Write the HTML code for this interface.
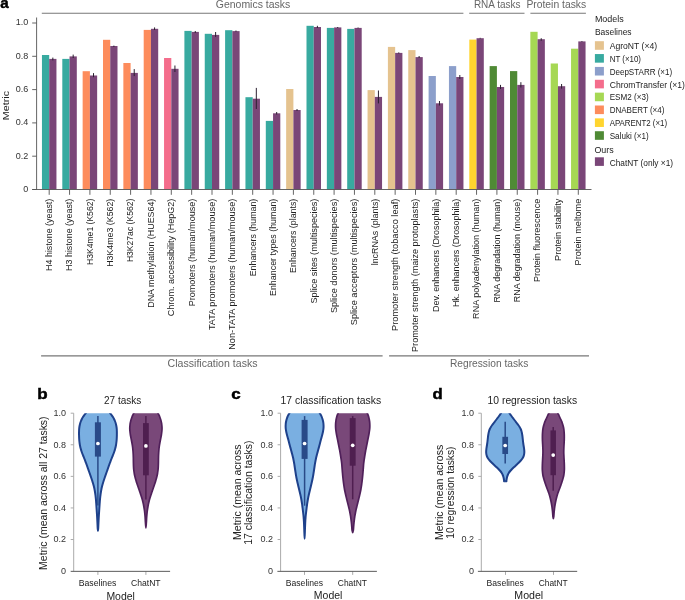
<!DOCTYPE html>
<html><head><meta charset="utf-8"><style>
html,body{margin:0;padding:0;background:#fff;width:685px;height:600px;overflow:hidden}
svg{display:block;will-change:transform}
</style></head><body>
<svg width="685" height="600" viewBox="0 0 685 600">
<rect width="685" height="600" fill="#fff"/>
<defs><clipPath id="vclip"><rect x="0" y="413.2" width="685" height="187"/></clipPath></defs>
<g font-family='"Liberation Sans", sans-serif' font-weight="bold" font-size="14.5" fill="#000" stroke="#000" stroke-width="0.45"><text transform="translate(0.3,8.2) scale(1.05,1)">a</text><text transform="translate(37.3,398.9) scale(1.17,1)">b</text><text transform="translate(231.2,398.9) scale(1.17,1)">c</text><text transform="translate(432.4,398.9) scale(1.15,1)">d</text></g>
<g>
<rect x="41.95" y="55.00" width="7.25" height="134.50" fill="#38aaa0"/>
<rect x="49.20" y="58.90" width="7.25" height="130.60" fill="#7a4678"/>
<rect x="62.30" y="58.90" width="7.25" height="130.60" fill="#38aaa0"/>
<rect x="69.55" y="56.40" width="7.25" height="133.10" fill="#7a4678"/>
<rect x="82.65" y="71.20" width="7.25" height="118.30" fill="#fd8c5c"/>
<rect x="89.90" y="75.50" width="7.25" height="114.00" fill="#7a4678"/>
<rect x="103.00" y="39.80" width="7.25" height="149.70" fill="#fd8c5c"/>
<rect x="110.25" y="46.00" width="7.25" height="143.50" fill="#7a4678"/>
<rect x="123.35" y="63.00" width="7.25" height="126.50" fill="#fd8c5c"/>
<rect x="130.60" y="72.90" width="7.25" height="116.60" fill="#7a4678"/>
<rect x="143.70" y="29.90" width="7.25" height="159.60" fill="#fd8c5c"/>
<rect x="150.95" y="28.80" width="7.25" height="160.70" fill="#7a4678"/>
<rect x="164.05" y="58.00" width="7.25" height="131.50" fill="#f46d8c"/>
<rect x="171.30" y="68.80" width="7.25" height="120.70" fill="#7a4678"/>
<rect x="184.40" y="30.90" width="7.25" height="158.60" fill="#38aaa0"/>
<rect x="191.65" y="31.90" width="7.25" height="157.60" fill="#7a4678"/>
<rect x="204.75" y="33.80" width="7.25" height="155.70" fill="#38aaa0"/>
<rect x="212.00" y="34.90" width="7.25" height="154.60" fill="#7a4678"/>
<rect x="225.10" y="30.20" width="7.25" height="159.30" fill="#38aaa0"/>
<rect x="232.35" y="31.10" width="7.25" height="158.40" fill="#7a4678"/>
<rect x="245.45" y="97.20" width="7.25" height="92.30" fill="#38aaa0"/>
<rect x="252.70" y="98.70" width="7.25" height="90.80" fill="#7a4678"/>
<rect x="265.80" y="120.90" width="7.25" height="68.60" fill="#38aaa0"/>
<rect x="273.05" y="113.30" width="7.25" height="76.20" fill="#7a4678"/>
<rect x="286.15" y="89.00" width="7.25" height="100.50" fill="#e5c38f"/>
<rect x="293.40" y="110.00" width="7.25" height="79.50" fill="#7a4678"/>
<rect x="306.50" y="25.80" width="7.25" height="163.70" fill="#38aaa0"/>
<rect x="313.75" y="27.00" width="7.25" height="162.50" fill="#7a4678"/>
<rect x="326.85" y="27.90" width="7.25" height="161.60" fill="#38aaa0"/>
<rect x="334.10" y="27.40" width="7.25" height="162.10" fill="#7a4678"/>
<rect x="347.20" y="28.90" width="7.25" height="160.60" fill="#38aaa0"/>
<rect x="354.45" y="27.90" width="7.25" height="161.60" fill="#7a4678"/>
<rect x="367.55" y="90.10" width="7.25" height="99.40" fill="#e5c38f"/>
<rect x="374.80" y="96.90" width="7.25" height="92.60" fill="#7a4678"/>
<rect x="387.90" y="46.90" width="7.25" height="142.60" fill="#e5c38f"/>
<rect x="395.15" y="52.90" width="7.25" height="136.60" fill="#7a4678"/>
<rect x="408.25" y="50.10" width="7.25" height="139.40" fill="#e5c38f"/>
<rect x="415.50" y="57.10" width="7.25" height="132.40" fill="#7a4678"/>
<rect x="428.60" y="76.00" width="7.25" height="113.50" fill="#8c9fcb"/>
<rect x="435.85" y="103.30" width="7.25" height="86.20" fill="#7a4678"/>
<rect x="448.95" y="66.10" width="7.25" height="123.40" fill="#8c9fcb"/>
<rect x="456.20" y="77.00" width="7.25" height="112.50" fill="#7a4678"/>
<rect x="469.30" y="39.60" width="7.25" height="149.90" fill="#ffd52f"/>
<rect x="476.55" y="38.20" width="7.25" height="151.30" fill="#7a4678"/>
<rect x="489.65" y="66.10" width="7.25" height="123.40" fill="#4f8a35"/>
<rect x="496.90" y="87.00" width="7.25" height="102.50" fill="#7a4678"/>
<rect x="510.00" y="71.10" width="7.25" height="118.40" fill="#4f8a35"/>
<rect x="517.25" y="84.90" width="7.25" height="104.60" fill="#7a4678"/>
<rect x="530.35" y="31.80" width="7.25" height="157.70" fill="#a6d854"/>
<rect x="537.60" y="39.20" width="7.25" height="150.30" fill="#7a4678"/>
<rect x="550.70" y="63.50" width="7.25" height="126.00" fill="#a6d854"/>
<rect x="557.95" y="86.20" width="7.25" height="103.30" fill="#7a4678"/>
<rect x="571.05" y="48.70" width="7.25" height="140.80" fill="#a6d854"/>
<rect x="578.30" y="41.40" width="7.25" height="148.10" fill="#7a4678"/>
</g>
<g stroke="#2b2030" stroke-width="1.0">
<line x1="52.83" y1="57.6" x2="52.83" y2="60.4"/>
<line x1="73.18" y1="54.6" x2="73.18" y2="58.0"/>
<line x1="93.53" y1="73.1" x2="93.53" y2="77.2"/>
<line x1="113.88" y1="45.6" x2="113.88" y2="46.9"/>
<line x1="134.23" y1="69.1" x2="134.23" y2="76.1"/>
<line x1="154.57" y1="27.4" x2="154.57" y2="30.0"/>
<line x1="174.93" y1="65.5" x2="174.93" y2="72.0"/>
<line x1="195.28" y1="31.0" x2="195.28" y2="33.0"/>
<line x1="215.62" y1="32.0" x2="215.62" y2="36.9"/>
<line x1="235.98" y1="30.5" x2="235.98" y2="31.8"/>
<line x1="256.32" y1="87.9" x2="256.32" y2="109.0"/>
<line x1="276.68" y1="112.0" x2="276.68" y2="114.5"/>
<line x1="297.03" y1="109.0" x2="297.03" y2="111.0"/>
<line x1="317.38" y1="25.8" x2="317.38" y2="28.0"/>
<line x1="337.73" y1="27.0" x2="337.73" y2="28.0"/>
<line x1="358.07" y1="27.5" x2="358.07" y2="28.3"/>
<line x1="378.43" y1="90.5" x2="378.43" y2="103.4"/>
<line x1="398.78" y1="52.4" x2="398.78" y2="53.5"/>
<line x1="419.12" y1="56.0" x2="419.12" y2="58.0"/>
<line x1="439.48" y1="101.0" x2="439.48" y2="105.5"/>
<line x1="459.82" y1="75.0" x2="459.82" y2="79.0"/>
<line x1="480.18" y1="37.8" x2="480.18" y2="38.6"/>
<line x1="500.53" y1="84.9" x2="500.53" y2="89.0"/>
<line x1="520.88" y1="82.2" x2="520.88" y2="87.5"/>
<line x1="541.23" y1="38.2" x2="541.23" y2="40.8"/>
<line x1="561.58" y1="84.0" x2="561.58" y2="88.6"/>
<line x1="581.93" y1="41.0" x2="581.93" y2="41.8"/>
</g>
<g stroke="#555" stroke-width="0.9" fill="none">
<line x1="36.6" y1="17.5" x2="36.6" y2="189.5"/>
<line x1="32.2" y1="189.5" x2="591.5" y2="189.5"/>
<line x1="32.2" y1="189.50" x2="36.6" y2="189.50"/>
<line x1="32.2" y1="156.20" x2="36.6" y2="156.20"/>
<line x1="32.2" y1="122.90" x2="36.6" y2="122.90"/>
<line x1="32.2" y1="89.60" x2="36.6" y2="89.60"/>
<line x1="32.2" y1="56.30" x2="36.6" y2="56.30"/>
<line x1="32.2" y1="23.00" x2="36.6" y2="23.00"/>
<line x1="49.20" y1="189.5" x2="49.20" y2="194.8"/>
<line x1="69.55" y1="189.5" x2="69.55" y2="194.8"/>
<line x1="89.90" y1="189.5" x2="89.90" y2="194.8"/>
<line x1="110.25" y1="189.5" x2="110.25" y2="194.8"/>
<line x1="130.60" y1="189.5" x2="130.60" y2="194.8"/>
<line x1="150.95" y1="189.5" x2="150.95" y2="194.8"/>
<line x1="171.30" y1="189.5" x2="171.30" y2="194.8"/>
<line x1="191.65" y1="189.5" x2="191.65" y2="194.8"/>
<line x1="212.00" y1="189.5" x2="212.00" y2="194.8"/>
<line x1="232.35" y1="189.5" x2="232.35" y2="194.8"/>
<line x1="252.70" y1="189.5" x2="252.70" y2="194.8"/>
<line x1="273.05" y1="189.5" x2="273.05" y2="194.8"/>
<line x1="293.40" y1="189.5" x2="293.40" y2="194.8"/>
<line x1="313.75" y1="189.5" x2="313.75" y2="194.8"/>
<line x1="334.10" y1="189.5" x2="334.10" y2="194.8"/>
<line x1="354.45" y1="189.5" x2="354.45" y2="194.8"/>
<line x1="374.80" y1="189.5" x2="374.80" y2="194.8"/>
<line x1="395.15" y1="189.5" x2="395.15" y2="194.8"/>
<line x1="415.50" y1="189.5" x2="415.50" y2="194.8"/>
<line x1="435.85" y1="189.5" x2="435.85" y2="194.8"/>
<line x1="456.20" y1="189.5" x2="456.20" y2="194.8"/>
<line x1="476.55" y1="189.5" x2="476.55" y2="194.8"/>
<line x1="496.90" y1="189.5" x2="496.90" y2="194.8"/>
<line x1="517.25" y1="189.5" x2="517.25" y2="194.8"/>
<line x1="537.60" y1="189.5" x2="537.60" y2="194.8"/>
<line x1="557.95" y1="189.5" x2="557.95" y2="194.8"/>
<line x1="578.30" y1="189.5" x2="578.30" y2="194.8"/>
</g>
<g font-family='"Liberation Sans", sans-serif' font-size="9" fill="#333" text-anchor="end">
<text x="28.3" y="191.90">0</text>
<text x="28.3" y="158.60">0.2</text>
<text x="28.3" y="125.30">0.4</text>
<text x="28.3" y="92.00">0.6</text>
<text x="28.3" y="58.70">0.8</text>
<text x="28.3" y="25.40">1.0</text>
</g>
<text font-family='"Liberation Sans", sans-serif' font-size="9.8" fill="#222" transform="translate(8.7,120.2) rotate(-90)" textLength="29.2" lengthAdjust="spacingAndGlyphs">Metric</text>
<g font-family='"Liberation Sans", sans-serif' font-size="8.3" fill="#222">
<text transform="translate(52.05,270.90) rotate(-90)" textLength="72.2" lengthAdjust="spacingAndGlyphs">H4 histone (yeast)</text>
<text transform="translate(72.40,270.90) rotate(-90)" textLength="72.2" lengthAdjust="spacingAndGlyphs">H3 histone (yeast)</text>
<text transform="translate(92.75,265.00) rotate(-90)" textLength="66.3" lengthAdjust="spacingAndGlyphs">H3K4me1 (K562)</text>
<text transform="translate(113.10,266.80) rotate(-90)" textLength="68.1" lengthAdjust="spacingAndGlyphs">H3K4me3 (K562)</text>
<text transform="translate(133.45,262.10) rotate(-90)" textLength="63.4" lengthAdjust="spacingAndGlyphs">H3K27ac (K562)</text>
<text transform="translate(153.80,307.70) rotate(-90)" textLength="109.0" lengthAdjust="spacingAndGlyphs">DNA methylation (HUES64)</text>
<text transform="translate(174.15,316.20) rotate(-90)" textLength="117.5" lengthAdjust="spacingAndGlyphs">Chrom. accessibility (HepG2)</text>
<text transform="translate(194.50,306.30) rotate(-90)" textLength="107.6" lengthAdjust="spacingAndGlyphs">Promoters (human/mouse)</text>
<text transform="translate(214.85,330.10) rotate(-90)" textLength="131.4" lengthAdjust="spacingAndGlyphs">TATA promoters (human/mouse)</text>
<text transform="translate(235.20,349.80) rotate(-90)" textLength="151.1" lengthAdjust="spacingAndGlyphs">Non-TATA promoters (human/mouse)</text>
<text transform="translate(255.55,276.30) rotate(-90)" textLength="77.6" lengthAdjust="spacingAndGlyphs">Enhancers (human)</text>
<text transform="translate(275.90,296.00) rotate(-90)" textLength="97.3" lengthAdjust="spacingAndGlyphs">Enhancer types (human)</text>
<text transform="translate(296.25,272.90) rotate(-90)" textLength="74.2" lengthAdjust="spacingAndGlyphs">Enhancers (plants)</text>
<text transform="translate(316.60,303.50) rotate(-90)" textLength="104.8" lengthAdjust="spacingAndGlyphs">Splice sites (multispecies)</text>
<text transform="translate(336.95,313.10) rotate(-90)" textLength="114.4" lengthAdjust="spacingAndGlyphs">Splice donors (multispecies)</text>
<text transform="translate(357.30,325.20) rotate(-90)" textLength="126.5" lengthAdjust="spacingAndGlyphs">Splice acceptors (multispecies)</text>
<text transform="translate(377.65,265.30) rotate(-90)" textLength="66.6" lengthAdjust="spacingAndGlyphs">lncRNAs (plants)</text>
<text transform="translate(398.00,330.90) rotate(-90)" textLength="132.2" lengthAdjust="spacingAndGlyphs">Promoter strength (tobacco leaf)</text>
<text transform="translate(418.35,352.00) rotate(-90)" textLength="153.3" lengthAdjust="spacingAndGlyphs">Promoter strength (maize protoplasts)</text>
<text transform="translate(438.70,311.90) rotate(-90)" textLength="113.2" lengthAdjust="spacingAndGlyphs">Dev. enhancers (Drosophila)</text>
<text transform="translate(459.05,307.10) rotate(-90)" textLength="108.4" lengthAdjust="spacingAndGlyphs">Hk. enhancers (Drosophila)</text>
<text transform="translate(479.40,318.90) rotate(-90)" textLength="120.2" lengthAdjust="spacingAndGlyphs">RNA polyadenylation (human)</text>
<text transform="translate(499.75,302.60) rotate(-90)" textLength="103.9" lengthAdjust="spacingAndGlyphs">RNA degradation (human)</text>
<text transform="translate(520.10,302.20) rotate(-90)" textLength="103.5" lengthAdjust="spacingAndGlyphs">RNA degradation (mouse)</text>
<text transform="translate(540.45,282.10) rotate(-90)" textLength="83.4" lengthAdjust="spacingAndGlyphs">Protein fluorescence</text>
<text transform="translate(560.80,261.00) rotate(-90)" textLength="62.3" lengthAdjust="spacingAndGlyphs">Protein stability</text>
<text transform="translate(581.15,265.40) rotate(-90)" textLength="66.7" lengthAdjust="spacingAndGlyphs">Protein meltome</text>
</g>
<g stroke="#777" stroke-width="1.1">
<line x1="41.8" y1="13.3" x2="463.4" y2="13.3"/>
<line x1="469.2" y1="13.3" x2="524.5" y2="13.3"/>
<line x1="530.4" y1="13.3" x2="585.9" y2="13.3"/>
<line x1="41.1" y1="355.9" x2="382.6" y2="355.9"/>
<line x1="389.1" y1="355.9" x2="589.0" y2="355.9"/>
</g>
<g font-family='"Liberation Sans", sans-serif' font-size="10.3" fill="#666">
<text x="215.8" y="7.6" textLength="74.4" lengthAdjust="spacingAndGlyphs">Genomics tasks</text>
<text x="473.9" y="8.0" textLength="46.6" lengthAdjust="spacingAndGlyphs">RNA tasks</text>
<text x="526.4" y="8.0" textLength="59.8" lengthAdjust="spacingAndGlyphs">Protein tasks</text>
<text x="167.6" y="367.0" textLength="89.9" lengthAdjust="spacingAndGlyphs">Classification tasks</text>
<text x="449.9" y="367.0" textLength="78.4" lengthAdjust="spacingAndGlyphs">Regression tasks</text>
</g>
<g font-family='"Liberation Sans", sans-serif' font-size="8.7" fill="#222">
<text x="594.9" y="22.1" textLength="28.8" lengthAdjust="spacingAndGlyphs">Models</text>
<text x="594.9" y="35.2" textLength="36.7" lengthAdjust="spacingAndGlyphs">Baselines</text>
<rect x="594.9" y="41.20" width="9" height="8.6" fill="#e5c38f"/>
<text x="609.7" y="49.00" textLength="47.4" lengthAdjust="spacingAndGlyphs">AgroNT (×4)</text>
<rect x="594.9" y="54.06" width="9" height="8.6" fill="#38aaa0"/>
<text x="609.7" y="61.86" textLength="31.3" lengthAdjust="spacingAndGlyphs">NT (×10)</text>
<rect x="594.9" y="66.92" width="9" height="8.6" fill="#8c9fcb"/>
<text x="609.7" y="74.72" textLength="62.5" lengthAdjust="spacingAndGlyphs">DeepSTARR (×1)</text>
<rect x="594.9" y="79.78" width="9" height="8.6" fill="#f46d8c"/>
<text x="609.7" y="87.58" textLength="75.3" lengthAdjust="spacingAndGlyphs">ChromTransfer (×1)</text>
<rect x="594.9" y="92.64" width="9" height="8.6" fill="#a6d854"/>
<text x="609.7" y="100.44" textLength="38.9" lengthAdjust="spacingAndGlyphs">ESM2 (×3)</text>
<rect x="594.9" y="105.50" width="9" height="8.6" fill="#fd8c5c"/>
<text x="609.7" y="113.30" textLength="54.7" lengthAdjust="spacingAndGlyphs">DNABERT (×4)</text>
<rect x="594.9" y="118.36" width="9" height="8.6" fill="#ffd52f"/>
<text x="609.7" y="126.16" textLength="57.4" lengthAdjust="spacingAndGlyphs">APARENT2 (×1)</text>
<rect x="594.9" y="131.22" width="9" height="8.6" fill="#4f8a35"/>
<text x="609.7" y="139.02" textLength="38.9" lengthAdjust="spacingAndGlyphs">Saluki (×1)</text>
<text x="594.4" y="153.1" textLength="19.3" lengthAdjust="spacingAndGlyphs">Ours</text>
<rect x="594.9" y="157.3" width="9" height="8.6" fill="#7a4678"/>
<text x="609.7" y="165.5" textLength="63.4" lengthAdjust="spacingAndGlyphs">ChatNT (only ×1)</text>
</g>
<g clip-path="url(#vclip)">
<path d="M87.10,411.00 C86.90,411.33 86.36,412.33 85.90,413.00 C85.44,413.67 84.84,414.33 84.35,415.00 C83.86,415.67 83.36,416.33 82.95,417.00 C82.54,417.67 82.20,418.33 81.87,419.00 C81.54,419.67 81.24,420.33 80.97,421.00 C80.71,421.67 80.46,422.33 80.26,423.00 C80.06,423.67 79.91,424.33 79.77,425.00 C79.62,425.67 79.49,426.33 79.39,427.00 C79.29,427.67 79.21,428.33 79.15,429.00 C79.10,429.67 79.08,430.33 79.06,431.00 C79.04,431.67 79.03,432.33 79.03,433.00 C79.03,433.67 79.03,434.33 79.04,435.00 C79.06,435.67 79.08,436.33 79.10,437.00 C79.12,437.67 79.15,438.33 79.19,439.00 C79.23,439.67 79.28,440.33 79.35,441.00 C79.42,441.67 79.50,442.33 79.59,443.00 C79.67,443.67 79.76,444.33 79.88,445.00 C80.00,445.67 80.13,446.33 80.29,447.00 C80.44,447.67 80.63,448.33 80.81,449.00 C81.00,449.67 81.19,450.33 81.40,451.00 C81.62,451.67 81.85,452.33 82.10,453.00 C82.35,453.67 82.62,454.33 82.89,455.00 C83.15,455.67 83.43,456.33 83.69,457.00 C83.96,457.67 84.22,458.33 84.48,459.00 C84.74,459.67 85.01,460.33 85.26,461.00 C85.52,461.67 85.78,462.33 86.02,463.00 C86.27,463.67 86.51,464.33 86.75,465.00 C86.99,465.67 87.22,466.33 87.45,467.00 C87.68,467.67 87.91,468.33 88.15,469.00 C88.38,469.67 88.61,470.33 88.85,471.00 C89.09,471.67 89.32,472.33 89.56,473.00 C89.80,473.67 90.03,474.33 90.26,475.00 C90.50,475.67 90.73,476.33 90.96,477.00 C91.18,477.67 91.41,478.33 91.63,479.00 C91.86,479.67 92.08,480.33 92.29,481.00 C92.51,481.67 92.71,482.33 92.91,483.00 C93.11,483.67 93.30,484.33 93.48,485.00 C93.67,485.67 93.85,486.33 94.01,487.00 C94.17,487.67 94.32,488.33 94.45,489.00 C94.58,489.67 94.70,490.33 94.82,491.00 C94.93,491.67 95.04,492.33 95.15,493.00 C95.25,493.67 95.34,494.33 95.42,495.00 C95.51,495.67 95.59,496.33 95.66,497.00 C95.74,497.67 95.81,498.33 95.88,499.00 C95.94,499.67 96.00,500.33 96.05,501.00 C96.11,501.67 96.15,502.33 96.20,503.00 C96.25,503.67 96.29,504.33 96.34,505.00 C96.38,505.67 96.43,506.33 96.47,507.00 C96.52,507.67 96.56,508.33 96.61,509.00 C96.65,509.67 96.70,510.33 96.74,511.00 C96.79,511.67 96.83,512.33 96.88,513.00 C96.92,513.67 96.97,514.33 97.01,515.00 C97.05,515.67 97.09,516.33 97.13,517.00 C97.17,517.67 97.20,518.33 97.24,519.00 C97.27,519.67 97.30,520.33 97.34,521.00 C97.37,521.67 97.40,522.33 97.44,523.00 C97.47,523.67 97.50,524.33 97.53,525.00 C97.57,525.67 97.60,526.43 97.62,527.00 C97.65,527.57 97.65,527.75 97.70,528.40 C97.76,529.05 97.87,530.90 97.95,530.90 C98.03,530.90 98.14,529.05 98.20,528.40 C98.25,527.75 98.25,527.57 98.28,527.00 C98.30,526.43 98.33,525.67 98.37,525.00 C98.40,524.33 98.43,523.67 98.46,523.00 C98.50,522.33 98.53,521.67 98.56,521.00 C98.60,520.33 98.63,519.67 98.66,519.00 C98.70,518.33 98.73,517.67 98.77,517.00 C98.81,516.33 98.85,515.67 98.89,515.00 C98.93,514.33 98.98,513.67 99.02,513.00 C99.07,512.33 99.11,511.67 99.16,511.00 C99.20,510.33 99.25,509.67 99.29,509.00 C99.34,508.33 99.38,507.67 99.43,507.00 C99.47,506.33 99.52,505.67 99.56,505.00 C99.61,504.33 99.65,503.67 99.70,503.00 C99.75,502.33 99.79,501.67 99.85,501.00 C99.90,500.33 99.96,499.67 100.02,499.00 C100.09,498.33 100.16,497.67 100.24,497.00 C100.31,496.33 100.39,495.67 100.48,495.00 C100.56,494.33 100.65,493.67 100.75,493.00 C100.86,492.33 100.97,491.67 101.08,491.00 C101.20,490.33 101.32,489.67 101.45,489.00 C101.58,488.33 101.73,487.67 101.89,487.00 C102.05,486.33 102.23,485.67 102.42,485.00 C102.60,484.33 102.79,483.67 102.99,483.00 C103.19,482.33 103.39,481.67 103.61,481.00 C103.82,480.33 104.04,479.67 104.27,479.00 C104.49,478.33 104.72,477.67 104.94,477.00 C105.17,476.33 105.40,475.67 105.64,475.00 C105.87,474.33 106.10,473.67 106.34,473.00 C106.58,472.33 106.81,471.67 107.05,471.00 C107.29,470.33 107.52,469.67 107.75,469.00 C107.99,468.33 108.22,467.67 108.45,467.00 C108.68,466.33 108.91,465.67 109.15,465.00 C109.39,464.33 109.63,463.67 109.88,463.00 C110.12,462.33 110.38,461.67 110.64,461.00 C110.89,460.33 111.16,459.67 111.42,459.00 C111.68,458.33 111.94,457.67 112.21,457.00 C112.47,456.33 112.75,455.67 113.01,455.00 C113.28,454.33 113.55,453.67 113.80,453.00 C114.05,452.33 114.28,451.67 114.50,451.00 C114.71,450.33 114.90,449.67 115.09,449.00 C115.27,448.33 115.46,447.67 115.61,447.00 C115.77,446.33 115.90,445.67 116.02,445.00 C116.14,444.33 116.23,443.67 116.31,443.00 C116.40,442.33 116.48,441.67 116.55,441.00 C116.62,440.33 116.67,439.67 116.71,439.00 C116.75,438.33 116.78,437.67 116.80,437.00 C116.82,436.33 116.84,435.67 116.86,435.00 C116.87,434.33 116.87,433.67 116.87,433.00 C116.87,432.33 116.86,431.67 116.84,431.00 C116.82,430.33 116.80,429.67 116.75,429.00 C116.69,428.33 116.61,427.67 116.51,427.00 C116.41,426.33 116.28,425.67 116.13,425.00 C115.99,424.33 115.84,423.67 115.64,423.00 C115.44,422.33 115.19,421.67 114.93,421.00 C114.66,420.33 114.36,419.67 114.03,419.00 C113.70,418.33 113.36,417.67 112.95,417.00 C112.54,416.33 112.04,415.67 111.55,415.00 C111.06,414.33 110.46,413.67 110.00,413.00 C109.54,412.33 109.00,411.33 108.80,411.00 Z" fill="#7aafe1" stroke="none"/>
<path d="M87.10,411.00 C86.90,411.33 86.36,412.33 85.90,413.00 C85.44,413.67 84.84,414.33 84.35,415.00 C83.86,415.67 83.36,416.33 82.95,417.00 C82.54,417.67 82.20,418.33 81.87,419.00 C81.54,419.67 81.24,420.33 80.97,421.00 C80.71,421.67 80.46,422.33 80.26,423.00 C80.06,423.67 79.91,424.33 79.77,425.00 C79.62,425.67 79.49,426.33 79.39,427.00 C79.29,427.67 79.21,428.33 79.15,429.00 C79.10,429.67 79.08,430.33 79.06,431.00 C79.04,431.67 79.03,432.33 79.03,433.00 C79.03,433.67 79.03,434.33 79.04,435.00 C79.06,435.67 79.08,436.33 79.10,437.00 C79.12,437.67 79.15,438.33 79.19,439.00 C79.23,439.67 79.28,440.33 79.35,441.00 C79.42,441.67 79.50,442.33 79.59,443.00 C79.67,443.67 79.76,444.33 79.88,445.00 C80.00,445.67 80.13,446.33 80.29,447.00 C80.44,447.67 80.63,448.33 80.81,449.00 C81.00,449.67 81.19,450.33 81.40,451.00 C81.62,451.67 81.85,452.33 82.10,453.00 C82.35,453.67 82.62,454.33 82.89,455.00 C83.15,455.67 83.43,456.33 83.69,457.00 C83.96,457.67 84.22,458.33 84.48,459.00 C84.74,459.67 85.01,460.33 85.26,461.00 C85.52,461.67 85.78,462.33 86.02,463.00 C86.27,463.67 86.51,464.33 86.75,465.00 C86.99,465.67 87.22,466.33 87.45,467.00 C87.68,467.67 87.91,468.33 88.15,469.00 C88.38,469.67 88.61,470.33 88.85,471.00 C89.09,471.67 89.32,472.33 89.56,473.00 C89.80,473.67 90.03,474.33 90.26,475.00 C90.50,475.67 90.73,476.33 90.96,477.00 C91.18,477.67 91.41,478.33 91.63,479.00 C91.86,479.67 92.08,480.33 92.29,481.00 C92.51,481.67 92.71,482.33 92.91,483.00 C93.11,483.67 93.30,484.33 93.48,485.00 C93.67,485.67 93.85,486.33 94.01,487.00 C94.17,487.67 94.32,488.33 94.45,489.00 C94.58,489.67 94.70,490.33 94.82,491.00 C94.93,491.67 95.04,492.33 95.15,493.00 C95.25,493.67 95.34,494.33 95.42,495.00 C95.51,495.67 95.59,496.33 95.66,497.00 C95.74,497.67 95.81,498.33 95.88,499.00 C95.94,499.67 96.00,500.33 96.05,501.00 C96.11,501.67 96.15,502.33 96.20,503.00 C96.25,503.67 96.29,504.33 96.34,505.00 C96.38,505.67 96.43,506.33 96.47,507.00 C96.52,507.67 96.56,508.33 96.61,509.00 C96.65,509.67 96.70,510.33 96.74,511.00 C96.79,511.67 96.83,512.33 96.88,513.00 C96.92,513.67 96.97,514.33 97.01,515.00 C97.05,515.67 97.09,516.33 97.13,517.00 C97.17,517.67 97.20,518.33 97.24,519.00 C97.27,519.67 97.30,520.33 97.34,521.00 C97.37,521.67 97.40,522.33 97.44,523.00 C97.47,523.67 97.50,524.33 97.53,525.00 C97.57,525.67 97.60,526.43 97.62,527.00 C97.65,527.57 97.65,527.75 97.70,528.40 C97.76,529.05 97.87,530.90 97.95,530.90 C98.03,530.90 98.14,529.05 98.20,528.40 C98.25,527.75 98.25,527.57 98.28,527.00 C98.30,526.43 98.33,525.67 98.37,525.00 C98.40,524.33 98.43,523.67 98.46,523.00 C98.50,522.33 98.53,521.67 98.56,521.00 C98.60,520.33 98.63,519.67 98.66,519.00 C98.70,518.33 98.73,517.67 98.77,517.00 C98.81,516.33 98.85,515.67 98.89,515.00 C98.93,514.33 98.98,513.67 99.02,513.00 C99.07,512.33 99.11,511.67 99.16,511.00 C99.20,510.33 99.25,509.67 99.29,509.00 C99.34,508.33 99.38,507.67 99.43,507.00 C99.47,506.33 99.52,505.67 99.56,505.00 C99.61,504.33 99.65,503.67 99.70,503.00 C99.75,502.33 99.79,501.67 99.85,501.00 C99.90,500.33 99.96,499.67 100.02,499.00 C100.09,498.33 100.16,497.67 100.24,497.00 C100.31,496.33 100.39,495.67 100.48,495.00 C100.56,494.33 100.65,493.67 100.75,493.00 C100.86,492.33 100.97,491.67 101.08,491.00 C101.20,490.33 101.32,489.67 101.45,489.00 C101.58,488.33 101.73,487.67 101.89,487.00 C102.05,486.33 102.23,485.67 102.42,485.00 C102.60,484.33 102.79,483.67 102.99,483.00 C103.19,482.33 103.39,481.67 103.61,481.00 C103.82,480.33 104.04,479.67 104.27,479.00 C104.49,478.33 104.72,477.67 104.94,477.00 C105.17,476.33 105.40,475.67 105.64,475.00 C105.87,474.33 106.10,473.67 106.34,473.00 C106.58,472.33 106.81,471.67 107.05,471.00 C107.29,470.33 107.52,469.67 107.75,469.00 C107.99,468.33 108.22,467.67 108.45,467.00 C108.68,466.33 108.91,465.67 109.15,465.00 C109.39,464.33 109.63,463.67 109.88,463.00 C110.12,462.33 110.38,461.67 110.64,461.00 C110.89,460.33 111.16,459.67 111.42,459.00 C111.68,458.33 111.94,457.67 112.21,457.00 C112.47,456.33 112.75,455.67 113.01,455.00 C113.28,454.33 113.55,453.67 113.80,453.00 C114.05,452.33 114.28,451.67 114.50,451.00 C114.71,450.33 114.90,449.67 115.09,449.00 C115.27,448.33 115.46,447.67 115.61,447.00 C115.77,446.33 115.90,445.67 116.02,445.00 C116.14,444.33 116.23,443.67 116.31,443.00 C116.40,442.33 116.48,441.67 116.55,441.00 C116.62,440.33 116.67,439.67 116.71,439.00 C116.75,438.33 116.78,437.67 116.80,437.00 C116.82,436.33 116.84,435.67 116.86,435.00 C116.87,434.33 116.87,433.67 116.87,433.00 C116.87,432.33 116.86,431.67 116.84,431.00 C116.82,430.33 116.80,429.67 116.75,429.00 C116.69,428.33 116.61,427.67 116.51,427.00 C116.41,426.33 116.28,425.67 116.13,425.00 C115.99,424.33 115.84,423.67 115.64,423.00 C115.44,422.33 115.19,421.67 114.93,421.00 C114.66,420.33 114.36,419.67 114.03,419.00 C113.70,418.33 113.36,417.67 112.95,417.00 C112.54,416.33 112.04,415.67 111.55,415.00 C111.06,414.33 110.46,413.67 110.00,413.00 C109.54,412.33 109.00,411.33 108.80,411.00" fill="none" stroke="#1e418b" stroke-width="2.0" stroke-linejoin="round" stroke-linecap="butt"/>
</g>
<g clip-path="url(#vclip)">
<path d="M134.53,411.00 C134.41,411.33 134.09,412.33 133.81,413.00 C133.53,413.67 133.17,414.33 132.87,415.00 C132.57,415.67 132.27,416.33 132.01,417.00 C131.75,417.67 131.53,418.33 131.32,419.00 C131.11,419.67 130.91,420.33 130.73,421.00 C130.56,421.67 130.40,422.33 130.28,423.00 C130.16,423.67 130.08,424.33 130.00,425.00 C129.93,425.67 129.86,426.33 129.82,427.00 C129.79,427.67 129.77,428.33 129.79,429.00 C129.81,429.67 129.87,430.33 129.93,431.00 C129.99,431.67 130.06,432.33 130.15,433.00 C130.23,433.67 130.33,434.33 130.44,435.00 C130.55,435.67 130.68,436.33 130.81,437.00 C130.93,437.67 131.07,438.33 131.20,439.00 C131.33,439.67 131.46,440.33 131.58,441.00 C131.71,441.67 131.84,442.33 131.96,443.00 C132.08,443.67 132.20,444.33 132.31,445.00 C132.41,445.67 132.51,446.33 132.59,447.00 C132.68,447.67 132.75,448.33 132.82,449.00 C132.89,449.67 132.95,450.33 133.01,451.00 C133.06,451.67 133.11,452.33 133.14,453.00 C133.18,453.67 133.21,454.33 133.24,455.00 C133.27,455.67 133.29,456.33 133.31,457.00 C133.33,457.67 133.35,458.33 133.36,459.00 C133.37,459.67 133.37,460.33 133.38,461.00 C133.39,461.67 133.40,462.33 133.41,463.00 C133.43,463.67 133.45,464.33 133.47,465.00 C133.49,465.67 133.52,466.33 133.55,467.00 C133.59,467.67 133.62,468.33 133.68,469.00 C133.74,469.67 133.82,470.33 133.91,471.00 C133.99,471.67 134.10,472.33 134.21,473.00 C134.32,473.67 134.43,474.33 134.57,475.00 C134.71,475.67 134.86,476.33 135.03,477.00 C135.19,477.67 135.38,478.33 135.56,479.00 C135.75,479.67 135.93,480.33 136.13,481.00 C136.33,481.67 136.54,482.33 136.76,483.00 C136.98,483.67 137.21,484.33 137.44,485.00 C137.67,485.67 137.90,486.33 138.13,487.00 C138.36,487.67 138.59,488.33 138.82,489.00 C139.05,489.67 139.28,490.33 139.51,491.00 C139.73,491.67 139.96,492.33 140.19,493.00 C140.42,493.67 140.64,494.33 140.86,495.00 C141.08,495.67 141.31,496.33 141.52,497.00 C141.73,497.67 141.94,498.33 142.13,499.00 C142.32,499.67 142.49,500.33 142.66,501.00 C142.82,501.67 142.97,502.33 143.12,503.00 C143.27,503.67 143.42,504.33 143.55,505.00 C143.68,505.67 143.80,506.33 143.91,507.00 C144.03,507.67 144.14,508.33 144.24,509.00 C144.34,509.67 144.44,510.33 144.52,511.00 C144.61,511.67 144.68,512.33 144.75,513.00 C144.82,513.67 144.88,514.33 144.94,515.00 C145.01,515.67 145.06,516.33 145.11,517.00 C145.16,517.67 145.20,518.33 145.24,519.00 C145.28,519.67 145.32,520.42 145.35,521.00 C145.39,521.58 145.35,521.37 145.45,522.50 C145.54,523.63 145.75,527.80 145.90,527.80 C146.05,527.80 146.26,523.63 146.35,522.50 C146.45,521.37 146.41,521.58 146.45,521.00 C146.48,520.42 146.52,519.67 146.56,519.00 C146.60,518.33 146.64,517.67 146.69,517.00 C146.74,516.33 146.79,515.67 146.86,515.00 C146.92,514.33 146.98,513.67 147.05,513.00 C147.12,512.33 147.19,511.67 147.28,511.00 C147.36,510.33 147.46,509.67 147.56,509.00 C147.66,508.33 147.77,507.67 147.89,507.00 C148.00,506.33 148.12,505.67 148.25,505.00 C148.38,504.33 148.53,503.67 148.68,503.00 C148.83,502.33 148.98,501.67 149.14,501.00 C149.31,500.33 149.48,499.67 149.67,499.00 C149.86,498.33 150.07,497.67 150.28,497.00 C150.49,496.33 150.72,495.67 150.94,495.00 C151.16,494.33 151.38,493.67 151.61,493.00 C151.84,492.33 152.07,491.67 152.29,491.00 C152.52,490.33 152.75,489.67 152.98,489.00 C153.21,488.33 153.44,487.67 153.67,487.00 C153.90,486.33 154.13,485.67 154.36,485.00 C154.59,484.33 154.82,483.67 155.04,483.00 C155.26,482.33 155.47,481.67 155.67,481.00 C155.87,480.33 156.05,479.67 156.24,479.00 C156.42,478.33 156.61,477.67 156.77,477.00 C156.94,476.33 157.09,475.67 157.23,475.00 C157.37,474.33 157.48,473.67 157.59,473.00 C157.70,472.33 157.81,471.67 157.89,471.00 C157.98,470.33 158.06,469.67 158.12,469.00 C158.18,468.33 158.21,467.67 158.25,467.00 C158.28,466.33 158.31,465.67 158.33,465.00 C158.35,464.33 158.37,463.67 158.39,463.00 C158.40,462.33 158.41,461.67 158.42,461.00 C158.43,460.33 158.43,459.67 158.44,459.00 C158.45,458.33 158.47,457.67 158.49,457.00 C158.51,456.33 158.53,455.67 158.56,455.00 C158.59,454.33 158.62,453.67 158.66,453.00 C158.69,452.33 158.74,451.67 158.79,451.00 C158.85,450.33 158.91,449.67 158.98,449.00 C159.05,448.33 159.12,447.67 159.21,447.00 C159.29,446.33 159.39,445.67 159.49,445.00 C159.60,444.33 159.72,443.67 159.84,443.00 C159.96,442.33 160.09,441.67 160.22,441.00 C160.34,440.33 160.47,439.67 160.60,439.00 C160.73,438.33 160.87,437.67 160.99,437.00 C161.12,436.33 161.25,435.67 161.36,435.00 C161.47,434.33 161.57,433.67 161.65,433.00 C161.74,432.33 161.81,431.67 161.87,431.00 C161.93,430.33 161.99,429.67 162.01,429.00 C162.03,428.33 162.01,427.67 161.98,427.00 C161.94,426.33 161.87,425.67 161.80,425.00 C161.72,424.33 161.64,423.67 161.52,423.00 C161.40,422.33 161.24,421.67 161.07,421.00 C160.89,420.33 160.69,419.67 160.48,419.00 C160.27,418.33 160.05,417.67 159.79,417.00 C159.53,416.33 159.23,415.67 158.93,415.00 C158.63,414.33 158.27,413.67 157.99,413.00 C157.71,412.33 157.39,411.33 157.27,411.00 Z" fill="#794879" stroke="none"/>
<path d="M134.53,411.00 C134.41,411.33 134.09,412.33 133.81,413.00 C133.53,413.67 133.17,414.33 132.87,415.00 C132.57,415.67 132.27,416.33 132.01,417.00 C131.75,417.67 131.53,418.33 131.32,419.00 C131.11,419.67 130.91,420.33 130.73,421.00 C130.56,421.67 130.40,422.33 130.28,423.00 C130.16,423.67 130.08,424.33 130.00,425.00 C129.93,425.67 129.86,426.33 129.82,427.00 C129.79,427.67 129.77,428.33 129.79,429.00 C129.81,429.67 129.87,430.33 129.93,431.00 C129.99,431.67 130.06,432.33 130.15,433.00 C130.23,433.67 130.33,434.33 130.44,435.00 C130.55,435.67 130.68,436.33 130.81,437.00 C130.93,437.67 131.07,438.33 131.20,439.00 C131.33,439.67 131.46,440.33 131.58,441.00 C131.71,441.67 131.84,442.33 131.96,443.00 C132.08,443.67 132.20,444.33 132.31,445.00 C132.41,445.67 132.51,446.33 132.59,447.00 C132.68,447.67 132.75,448.33 132.82,449.00 C132.89,449.67 132.95,450.33 133.01,451.00 C133.06,451.67 133.11,452.33 133.14,453.00 C133.18,453.67 133.21,454.33 133.24,455.00 C133.27,455.67 133.29,456.33 133.31,457.00 C133.33,457.67 133.35,458.33 133.36,459.00 C133.37,459.67 133.37,460.33 133.38,461.00 C133.39,461.67 133.40,462.33 133.41,463.00 C133.43,463.67 133.45,464.33 133.47,465.00 C133.49,465.67 133.52,466.33 133.55,467.00 C133.59,467.67 133.62,468.33 133.68,469.00 C133.74,469.67 133.82,470.33 133.91,471.00 C133.99,471.67 134.10,472.33 134.21,473.00 C134.32,473.67 134.43,474.33 134.57,475.00 C134.71,475.67 134.86,476.33 135.03,477.00 C135.19,477.67 135.38,478.33 135.56,479.00 C135.75,479.67 135.93,480.33 136.13,481.00 C136.33,481.67 136.54,482.33 136.76,483.00 C136.98,483.67 137.21,484.33 137.44,485.00 C137.67,485.67 137.90,486.33 138.13,487.00 C138.36,487.67 138.59,488.33 138.82,489.00 C139.05,489.67 139.28,490.33 139.51,491.00 C139.73,491.67 139.96,492.33 140.19,493.00 C140.42,493.67 140.64,494.33 140.86,495.00 C141.08,495.67 141.31,496.33 141.52,497.00 C141.73,497.67 141.94,498.33 142.13,499.00 C142.32,499.67 142.49,500.33 142.66,501.00 C142.82,501.67 142.97,502.33 143.12,503.00 C143.27,503.67 143.42,504.33 143.55,505.00 C143.68,505.67 143.80,506.33 143.91,507.00 C144.03,507.67 144.14,508.33 144.24,509.00 C144.34,509.67 144.44,510.33 144.52,511.00 C144.61,511.67 144.68,512.33 144.75,513.00 C144.82,513.67 144.88,514.33 144.94,515.00 C145.01,515.67 145.06,516.33 145.11,517.00 C145.16,517.67 145.20,518.33 145.24,519.00 C145.28,519.67 145.32,520.42 145.35,521.00 C145.39,521.58 145.35,521.37 145.45,522.50 C145.54,523.63 145.75,527.80 145.90,527.80 C146.05,527.80 146.26,523.63 146.35,522.50 C146.45,521.37 146.41,521.58 146.45,521.00 C146.48,520.42 146.52,519.67 146.56,519.00 C146.60,518.33 146.64,517.67 146.69,517.00 C146.74,516.33 146.79,515.67 146.86,515.00 C146.92,514.33 146.98,513.67 147.05,513.00 C147.12,512.33 147.19,511.67 147.28,511.00 C147.36,510.33 147.46,509.67 147.56,509.00 C147.66,508.33 147.77,507.67 147.89,507.00 C148.00,506.33 148.12,505.67 148.25,505.00 C148.38,504.33 148.53,503.67 148.68,503.00 C148.83,502.33 148.98,501.67 149.14,501.00 C149.31,500.33 149.48,499.67 149.67,499.00 C149.86,498.33 150.07,497.67 150.28,497.00 C150.49,496.33 150.72,495.67 150.94,495.00 C151.16,494.33 151.38,493.67 151.61,493.00 C151.84,492.33 152.07,491.67 152.29,491.00 C152.52,490.33 152.75,489.67 152.98,489.00 C153.21,488.33 153.44,487.67 153.67,487.00 C153.90,486.33 154.13,485.67 154.36,485.00 C154.59,484.33 154.82,483.67 155.04,483.00 C155.26,482.33 155.47,481.67 155.67,481.00 C155.87,480.33 156.05,479.67 156.24,479.00 C156.42,478.33 156.61,477.67 156.77,477.00 C156.94,476.33 157.09,475.67 157.23,475.00 C157.37,474.33 157.48,473.67 157.59,473.00 C157.70,472.33 157.81,471.67 157.89,471.00 C157.98,470.33 158.06,469.67 158.12,469.00 C158.18,468.33 158.21,467.67 158.25,467.00 C158.28,466.33 158.31,465.67 158.33,465.00 C158.35,464.33 158.37,463.67 158.39,463.00 C158.40,462.33 158.41,461.67 158.42,461.00 C158.43,460.33 158.43,459.67 158.44,459.00 C158.45,458.33 158.47,457.67 158.49,457.00 C158.51,456.33 158.53,455.67 158.56,455.00 C158.59,454.33 158.62,453.67 158.66,453.00 C158.69,452.33 158.74,451.67 158.79,451.00 C158.85,450.33 158.91,449.67 158.98,449.00 C159.05,448.33 159.12,447.67 159.21,447.00 C159.29,446.33 159.39,445.67 159.49,445.00 C159.60,444.33 159.72,443.67 159.84,443.00 C159.96,442.33 160.09,441.67 160.22,441.00 C160.34,440.33 160.47,439.67 160.60,439.00 C160.73,438.33 160.87,437.67 160.99,437.00 C161.12,436.33 161.25,435.67 161.36,435.00 C161.47,434.33 161.57,433.67 161.65,433.00 C161.74,432.33 161.81,431.67 161.87,431.00 C161.93,430.33 161.99,429.67 162.01,429.00 C162.03,428.33 162.01,427.67 161.98,427.00 C161.94,426.33 161.87,425.67 161.80,425.00 C161.72,424.33 161.64,423.67 161.52,423.00 C161.40,422.33 161.24,421.67 161.07,421.00 C160.89,420.33 160.69,419.67 160.48,419.00 C160.27,418.33 160.05,417.67 159.79,417.00 C159.53,416.33 159.23,415.67 158.93,415.00 C158.63,414.33 158.27,413.67 157.99,413.00 C157.71,412.33 157.39,411.33 157.27,411.00" fill="none" stroke="#50205a" stroke-width="1.7" stroke-linejoin="round" stroke-linecap="butt"/>
</g>
<g clip-path="url(#vclip)">
<path d="M290.32,411.00 C290.17,411.33 289.79,412.33 289.47,413.00 C289.15,413.67 288.72,414.33 288.38,415.00 C288.04,415.67 287.70,416.33 287.42,417.00 C287.15,417.67 286.94,418.33 286.73,419.00 C286.53,419.67 286.35,420.33 286.20,421.00 C286.05,421.67 285.92,422.33 285.83,423.00 C285.75,423.67 285.71,424.33 285.68,425.00 C285.64,425.67 285.62,426.33 285.64,427.00 C285.66,427.67 285.70,428.33 285.78,429.00 C285.85,429.67 285.98,430.33 286.11,431.00 C286.23,431.67 286.37,432.33 286.52,433.00 C286.67,433.67 286.83,434.33 287.00,435.00 C287.17,435.67 287.36,436.33 287.55,437.00 C287.73,437.67 287.92,438.33 288.11,439.00 C288.29,439.67 288.47,440.33 288.65,441.00 C288.82,441.67 288.99,442.33 289.16,443.00 C289.33,443.67 289.50,444.33 289.68,445.00 C289.85,445.67 290.03,446.33 290.21,447.00 C290.39,447.67 290.57,448.33 290.76,449.00 C290.94,449.67 291.12,450.33 291.30,451.00 C291.49,451.67 291.67,452.33 291.85,453.00 C292.02,453.67 292.21,454.33 292.38,455.00 C292.55,455.67 292.73,456.33 292.89,457.00 C293.04,457.67 293.19,458.33 293.33,459.00 C293.47,459.67 293.60,460.33 293.73,461.00 C293.86,461.67 293.98,462.33 294.10,463.00 C294.22,463.67 294.32,464.33 294.43,465.00 C294.53,465.67 294.62,466.33 294.72,467.00 C294.82,467.67 294.92,468.33 295.02,469.00 C295.12,469.67 295.22,470.33 295.32,471.00 C295.42,471.67 295.52,472.33 295.63,473.00 C295.73,473.67 295.83,474.33 295.94,475.00 C296.06,475.67 296.17,476.33 296.30,477.00 C296.43,477.67 296.57,478.33 296.71,479.00 C296.85,479.67 297.00,480.33 297.15,481.00 C297.29,481.67 297.44,482.33 297.59,483.00 C297.75,483.67 297.90,484.33 298.06,485.00 C298.21,485.67 298.37,486.33 298.53,487.00 C298.69,487.67 298.85,488.33 299.01,489.00 C299.17,489.67 299.33,490.33 299.49,491.00 C299.65,491.67 299.81,492.33 299.97,493.00 C300.12,493.67 300.29,494.33 300.44,495.00 C300.59,495.67 300.73,496.33 300.87,497.00 C301.01,497.67 301.13,498.33 301.25,499.00 C301.37,499.67 301.48,500.33 301.60,501.00 C301.71,501.67 301.82,502.33 301.92,503.00 C302.02,503.67 302.12,504.33 302.20,505.00 C302.29,505.67 302.37,506.33 302.46,507.00 C302.54,507.67 302.62,508.33 302.70,509.00 C302.78,509.67 302.86,510.33 302.94,511.00 C303.02,511.67 303.10,512.33 303.18,513.00 C303.25,513.67 303.33,514.33 303.40,515.00 C303.48,515.67 303.54,516.33 303.60,517.00 C303.66,517.67 303.70,518.33 303.75,519.00 C303.80,519.67 303.84,520.33 303.88,521.00 C303.92,521.67 303.96,522.33 303.99,523.00 C304.03,523.67 304.05,524.33 304.08,525.00 C304.11,525.67 304.13,526.33 304.16,527.00 C304.18,527.67 304.20,528.50 304.22,529.00 C304.24,529.50 304.21,528.38 304.27,530.00 C304.33,531.62 304.49,538.70 304.60,538.70 C304.71,538.70 304.87,531.62 304.93,530.00 C304.99,528.38 304.96,529.50 304.98,529.00 C305.00,528.50 305.02,527.67 305.04,527.00 C305.07,526.33 305.09,525.67 305.12,525.00 C305.15,524.33 305.17,523.67 305.21,523.00 C305.24,522.33 305.28,521.67 305.32,521.00 C305.36,520.33 305.40,519.67 305.45,519.00 C305.50,518.33 305.54,517.67 305.60,517.00 C305.66,516.33 305.72,515.67 305.80,515.00 C305.87,514.33 305.95,513.67 306.02,513.00 C306.10,512.33 306.18,511.67 306.26,511.00 C306.34,510.33 306.42,509.67 306.50,509.00 C306.58,508.33 306.66,507.67 306.74,507.00 C306.83,506.33 306.91,505.67 307.00,505.00 C307.08,504.33 307.18,503.67 307.28,503.00 C307.38,502.33 307.49,501.67 307.60,501.00 C307.72,500.33 307.83,499.67 307.95,499.00 C308.07,498.33 308.19,497.67 308.33,497.00 C308.47,496.33 308.61,495.67 308.76,495.00 C308.91,494.33 309.08,493.67 309.23,493.00 C309.39,492.33 309.55,491.67 309.71,491.00 C309.87,490.33 310.03,489.67 310.19,489.00 C310.35,488.33 310.51,487.67 310.67,487.00 C310.83,486.33 310.99,485.67 311.14,485.00 C311.30,484.33 311.45,483.67 311.61,483.00 C311.76,482.33 311.91,481.67 312.05,481.00 C312.20,480.33 312.35,479.67 312.49,479.00 C312.63,478.33 312.77,477.67 312.90,477.00 C313.03,476.33 313.14,475.67 313.26,475.00 C313.37,474.33 313.47,473.67 313.57,473.00 C313.68,472.33 313.78,471.67 313.88,471.00 C313.98,470.33 314.08,469.67 314.18,469.00 C314.28,468.33 314.38,467.67 314.48,467.00 C314.58,466.33 314.67,465.67 314.77,465.00 C314.88,464.33 314.98,463.67 315.10,463.00 C315.22,462.33 315.34,461.67 315.47,461.00 C315.60,460.33 315.73,459.67 315.87,459.00 C316.01,458.33 316.16,457.67 316.31,457.00 C316.47,456.33 316.65,455.67 316.82,455.00 C316.99,454.33 317.18,453.67 317.35,453.00 C317.53,452.33 317.71,451.67 317.90,451.00 C318.08,450.33 318.26,449.67 318.44,449.00 C318.63,448.33 318.81,447.67 318.99,447.00 C319.17,446.33 319.35,445.67 319.52,445.00 C319.70,444.33 319.87,443.67 320.04,443.00 C320.21,442.33 320.38,441.67 320.55,441.00 C320.73,440.33 320.91,439.67 321.09,439.00 C321.28,438.33 321.47,437.67 321.65,437.00 C321.84,436.33 322.03,435.67 322.20,435.00 C322.37,434.33 322.53,433.67 322.68,433.00 C322.83,432.33 322.97,431.67 323.09,431.00 C323.22,430.33 323.35,429.67 323.42,429.00 C323.50,428.33 323.54,427.67 323.56,427.00 C323.58,426.33 323.56,425.67 323.52,425.00 C323.49,424.33 323.45,423.67 323.37,423.00 C323.28,422.33 323.15,421.67 323.00,421.00 C322.85,420.33 322.67,419.67 322.47,419.00 C322.26,418.33 322.05,417.67 321.78,417.00 C321.50,416.33 321.16,415.67 320.82,415.00 C320.48,414.33 320.05,413.67 319.73,413.00 C319.41,412.33 319.03,411.33 318.88,411.00 Z" fill="#7aafe1" stroke="none"/>
<path d="M290.32,411.00 C290.17,411.33 289.79,412.33 289.47,413.00 C289.15,413.67 288.72,414.33 288.38,415.00 C288.04,415.67 287.70,416.33 287.42,417.00 C287.15,417.67 286.94,418.33 286.73,419.00 C286.53,419.67 286.35,420.33 286.20,421.00 C286.05,421.67 285.92,422.33 285.83,423.00 C285.75,423.67 285.71,424.33 285.68,425.00 C285.64,425.67 285.62,426.33 285.64,427.00 C285.66,427.67 285.70,428.33 285.78,429.00 C285.85,429.67 285.98,430.33 286.11,431.00 C286.23,431.67 286.37,432.33 286.52,433.00 C286.67,433.67 286.83,434.33 287.00,435.00 C287.17,435.67 287.36,436.33 287.55,437.00 C287.73,437.67 287.92,438.33 288.11,439.00 C288.29,439.67 288.47,440.33 288.65,441.00 C288.82,441.67 288.99,442.33 289.16,443.00 C289.33,443.67 289.50,444.33 289.68,445.00 C289.85,445.67 290.03,446.33 290.21,447.00 C290.39,447.67 290.57,448.33 290.76,449.00 C290.94,449.67 291.12,450.33 291.30,451.00 C291.49,451.67 291.67,452.33 291.85,453.00 C292.02,453.67 292.21,454.33 292.38,455.00 C292.55,455.67 292.73,456.33 292.89,457.00 C293.04,457.67 293.19,458.33 293.33,459.00 C293.47,459.67 293.60,460.33 293.73,461.00 C293.86,461.67 293.98,462.33 294.10,463.00 C294.22,463.67 294.32,464.33 294.43,465.00 C294.53,465.67 294.62,466.33 294.72,467.00 C294.82,467.67 294.92,468.33 295.02,469.00 C295.12,469.67 295.22,470.33 295.32,471.00 C295.42,471.67 295.52,472.33 295.63,473.00 C295.73,473.67 295.83,474.33 295.94,475.00 C296.06,475.67 296.17,476.33 296.30,477.00 C296.43,477.67 296.57,478.33 296.71,479.00 C296.85,479.67 297.00,480.33 297.15,481.00 C297.29,481.67 297.44,482.33 297.59,483.00 C297.75,483.67 297.90,484.33 298.06,485.00 C298.21,485.67 298.37,486.33 298.53,487.00 C298.69,487.67 298.85,488.33 299.01,489.00 C299.17,489.67 299.33,490.33 299.49,491.00 C299.65,491.67 299.81,492.33 299.97,493.00 C300.12,493.67 300.29,494.33 300.44,495.00 C300.59,495.67 300.73,496.33 300.87,497.00 C301.01,497.67 301.13,498.33 301.25,499.00 C301.37,499.67 301.48,500.33 301.60,501.00 C301.71,501.67 301.82,502.33 301.92,503.00 C302.02,503.67 302.12,504.33 302.20,505.00 C302.29,505.67 302.37,506.33 302.46,507.00 C302.54,507.67 302.62,508.33 302.70,509.00 C302.78,509.67 302.86,510.33 302.94,511.00 C303.02,511.67 303.10,512.33 303.18,513.00 C303.25,513.67 303.33,514.33 303.40,515.00 C303.48,515.67 303.54,516.33 303.60,517.00 C303.66,517.67 303.70,518.33 303.75,519.00 C303.80,519.67 303.84,520.33 303.88,521.00 C303.92,521.67 303.96,522.33 303.99,523.00 C304.03,523.67 304.05,524.33 304.08,525.00 C304.11,525.67 304.13,526.33 304.16,527.00 C304.18,527.67 304.20,528.50 304.22,529.00 C304.24,529.50 304.21,528.38 304.27,530.00 C304.33,531.62 304.49,538.70 304.60,538.70 C304.71,538.70 304.87,531.62 304.93,530.00 C304.99,528.38 304.96,529.50 304.98,529.00 C305.00,528.50 305.02,527.67 305.04,527.00 C305.07,526.33 305.09,525.67 305.12,525.00 C305.15,524.33 305.17,523.67 305.21,523.00 C305.24,522.33 305.28,521.67 305.32,521.00 C305.36,520.33 305.40,519.67 305.45,519.00 C305.50,518.33 305.54,517.67 305.60,517.00 C305.66,516.33 305.72,515.67 305.80,515.00 C305.87,514.33 305.95,513.67 306.02,513.00 C306.10,512.33 306.18,511.67 306.26,511.00 C306.34,510.33 306.42,509.67 306.50,509.00 C306.58,508.33 306.66,507.67 306.74,507.00 C306.83,506.33 306.91,505.67 307.00,505.00 C307.08,504.33 307.18,503.67 307.28,503.00 C307.38,502.33 307.49,501.67 307.60,501.00 C307.72,500.33 307.83,499.67 307.95,499.00 C308.07,498.33 308.19,497.67 308.33,497.00 C308.47,496.33 308.61,495.67 308.76,495.00 C308.91,494.33 309.08,493.67 309.23,493.00 C309.39,492.33 309.55,491.67 309.71,491.00 C309.87,490.33 310.03,489.67 310.19,489.00 C310.35,488.33 310.51,487.67 310.67,487.00 C310.83,486.33 310.99,485.67 311.14,485.00 C311.30,484.33 311.45,483.67 311.61,483.00 C311.76,482.33 311.91,481.67 312.05,481.00 C312.20,480.33 312.35,479.67 312.49,479.00 C312.63,478.33 312.77,477.67 312.90,477.00 C313.03,476.33 313.14,475.67 313.26,475.00 C313.37,474.33 313.47,473.67 313.57,473.00 C313.68,472.33 313.78,471.67 313.88,471.00 C313.98,470.33 314.08,469.67 314.18,469.00 C314.28,468.33 314.38,467.67 314.48,467.00 C314.58,466.33 314.67,465.67 314.77,465.00 C314.88,464.33 314.98,463.67 315.10,463.00 C315.22,462.33 315.34,461.67 315.47,461.00 C315.60,460.33 315.73,459.67 315.87,459.00 C316.01,458.33 316.16,457.67 316.31,457.00 C316.47,456.33 316.65,455.67 316.82,455.00 C316.99,454.33 317.18,453.67 317.35,453.00 C317.53,452.33 317.71,451.67 317.90,451.00 C318.08,450.33 318.26,449.67 318.44,449.00 C318.63,448.33 318.81,447.67 318.99,447.00 C319.17,446.33 319.35,445.67 319.52,445.00 C319.70,444.33 319.87,443.67 320.04,443.00 C320.21,442.33 320.38,441.67 320.55,441.00 C320.73,440.33 320.91,439.67 321.09,439.00 C321.28,438.33 321.47,437.67 321.65,437.00 C321.84,436.33 322.03,435.67 322.20,435.00 C322.37,434.33 322.53,433.67 322.68,433.00 C322.83,432.33 322.97,431.67 323.09,431.00 C323.22,430.33 323.35,429.67 323.42,429.00 C323.50,428.33 323.54,427.67 323.56,427.00 C323.58,426.33 323.56,425.67 323.52,425.00 C323.49,424.33 323.45,423.67 323.37,423.00 C323.28,422.33 323.15,421.67 323.00,421.00 C322.85,420.33 322.67,419.67 322.47,419.00 C322.26,418.33 322.05,417.67 321.78,417.00 C321.50,416.33 321.16,415.67 320.82,415.00 C320.48,414.33 320.05,413.67 319.73,413.00 C319.41,412.33 319.03,411.33 318.88,411.00" fill="none" stroke="#1e418b" stroke-width="2.0" stroke-linejoin="round" stroke-linecap="butt"/>
</g>
<g clip-path="url(#vclip)">
<path d="M338.68,411.00 C338.58,411.33 338.32,412.33 338.10,413.00 C337.88,413.67 337.59,414.33 337.35,415.00 C337.12,415.67 336.89,416.33 336.71,417.00 C336.52,417.67 336.38,418.33 336.25,419.00 C336.11,419.67 335.99,420.33 335.90,421.00 C335.80,421.67 335.72,422.33 335.67,423.00 C335.62,423.67 335.60,424.33 335.59,425.00 C335.57,425.67 335.57,426.33 335.59,427.00 C335.61,427.67 335.65,428.33 335.71,429.00 C335.78,429.67 335.87,430.33 335.97,431.00 C336.06,431.67 336.17,432.33 336.28,433.00 C336.39,433.67 336.51,434.33 336.63,435.00 C336.76,435.67 336.90,436.33 337.03,437.00 C337.17,437.67 337.30,438.33 337.44,439.00 C337.58,439.67 337.71,440.33 337.84,441.00 C337.97,441.67 338.10,442.33 338.23,443.00 C338.37,443.67 338.49,444.33 338.63,445.00 C338.76,445.67 338.89,446.33 339.02,447.00 C339.15,447.67 339.28,448.33 339.41,449.00 C339.54,449.67 339.68,450.33 339.80,451.00 C339.92,451.67 340.04,452.33 340.16,453.00 C340.27,453.67 340.38,454.33 340.49,455.00 C340.60,455.67 340.71,456.33 340.81,457.00 C340.91,457.67 341.01,458.33 341.11,459.00 C341.21,459.67 341.31,460.33 341.40,461.00 C341.49,461.67 341.58,462.33 341.66,463.00 C341.74,463.67 341.80,464.33 341.86,465.00 C341.92,465.67 341.96,466.33 342.01,467.00 C342.06,467.67 342.11,468.33 342.16,469.00 C342.21,469.67 342.27,470.33 342.32,471.00 C342.37,471.67 342.43,472.33 342.49,473.00 C342.54,473.67 342.60,474.33 342.66,475.00 C342.72,475.67 342.78,476.33 342.85,477.00 C342.92,477.67 342.99,478.33 343.06,479.00 C343.14,479.67 343.21,480.33 343.29,481.00 C343.37,481.67 343.45,482.33 343.54,483.00 C343.63,483.67 343.72,484.33 343.82,485.00 C343.92,485.67 344.02,486.33 344.13,487.00 C344.24,487.67 344.34,488.33 344.46,489.00 C344.58,489.67 344.71,490.33 344.84,491.00 C344.98,491.67 345.13,492.33 345.27,493.00 C345.42,493.67 345.57,494.33 345.72,495.00 C345.88,495.67 346.03,496.33 346.19,497.00 C346.35,497.67 346.51,498.33 346.68,499.00 C346.84,499.67 347.01,500.33 347.18,501.00 C347.34,501.67 347.51,502.33 347.68,503.00 C347.84,503.67 348.01,504.33 348.18,505.00 C348.35,505.67 348.52,506.33 348.68,507.00 C348.85,507.67 349.02,508.33 349.17,509.00 C349.33,509.67 349.47,510.33 349.61,511.00 C349.75,511.67 349.87,512.33 349.99,513.00 C350.12,513.67 350.24,514.33 350.36,515.00 C350.47,515.67 350.59,516.33 350.69,517.00 C350.79,517.67 350.88,518.33 350.96,519.00 C351.05,519.67 351.13,520.33 351.21,521.00 C351.29,521.67 351.37,522.33 351.44,523.00 C351.51,523.67 351.58,524.33 351.63,525.00 C351.69,525.67 351.75,526.33 351.80,527.00 C351.85,527.67 351.90,528.50 351.94,529.00 C351.98,529.50 351.91,529.38 352.04,530.00 C352.17,530.62 352.48,532.70 352.70,532.70 C352.92,532.70 353.23,530.62 353.36,530.00 C353.49,529.38 353.42,529.50 353.46,529.00 C353.50,528.50 353.55,527.67 353.60,527.00 C353.65,526.33 353.71,525.67 353.77,525.00 C353.82,524.33 353.89,523.67 353.96,523.00 C354.03,522.33 354.11,521.67 354.19,521.00 C354.27,520.33 354.35,519.67 354.44,519.00 C354.52,518.33 354.61,517.67 354.71,517.00 C354.81,516.33 354.93,515.67 355.04,515.00 C355.16,514.33 355.28,513.67 355.41,513.00 C355.53,512.33 355.65,511.67 355.79,511.00 C355.93,510.33 356.07,509.67 356.23,509.00 C356.38,508.33 356.55,507.67 356.72,507.00 C356.88,506.33 357.05,505.67 357.22,505.00 C357.39,504.33 357.56,503.67 357.72,503.00 C357.89,502.33 358.06,501.67 358.22,501.00 C358.39,500.33 358.56,499.67 358.72,499.00 C358.89,498.33 359.05,497.67 359.21,497.00 C359.37,496.33 359.52,495.67 359.68,495.00 C359.83,494.33 359.98,493.67 360.13,493.00 C360.27,492.33 360.42,491.67 360.56,491.00 C360.69,490.33 360.82,489.67 360.94,489.00 C361.06,488.33 361.16,487.67 361.27,487.00 C361.38,486.33 361.48,485.67 361.58,485.00 C361.68,484.33 361.77,483.67 361.86,483.00 C361.95,482.33 362.03,481.67 362.11,481.00 C362.19,480.33 362.26,479.67 362.34,479.00 C362.41,478.33 362.48,477.67 362.55,477.00 C362.62,476.33 362.68,475.67 362.74,475.00 C362.80,474.33 362.86,473.67 362.91,473.00 C362.97,472.33 363.03,471.67 363.08,471.00 C363.13,470.33 363.19,469.67 363.24,469.00 C363.29,468.33 363.34,467.67 363.39,467.00 C363.44,466.33 363.48,465.67 363.54,465.00 C363.60,464.33 363.66,463.67 363.74,463.00 C363.82,462.33 363.91,461.67 364.00,461.00 C364.09,460.33 364.19,459.67 364.29,459.00 C364.39,458.33 364.49,457.67 364.59,457.00 C364.69,456.33 364.80,455.67 364.91,455.00 C365.02,454.33 365.13,453.67 365.24,453.00 C365.36,452.33 365.48,451.67 365.60,451.00 C365.72,450.33 365.86,449.67 365.99,449.00 C366.12,448.33 366.25,447.67 366.38,447.00 C366.51,446.33 366.64,445.67 366.77,445.00 C366.91,444.33 367.03,443.67 367.17,443.00 C367.30,442.33 367.43,441.67 367.56,441.00 C367.69,440.33 367.82,439.67 367.96,439.00 C368.10,438.33 368.23,437.67 368.37,437.00 C368.50,436.33 368.64,435.67 368.77,435.00 C368.89,434.33 369.01,433.67 369.12,433.00 C369.23,432.33 369.34,431.67 369.43,431.00 C369.53,430.33 369.62,429.67 369.69,429.00 C369.75,428.33 369.79,427.67 369.81,427.00 C369.83,426.33 369.83,425.67 369.81,425.00 C369.80,424.33 369.78,423.67 369.73,423.00 C369.68,422.33 369.60,421.67 369.50,421.00 C369.41,420.33 369.29,419.67 369.15,419.00 C369.02,418.33 368.88,417.67 368.69,417.00 C368.51,416.33 368.28,415.67 368.05,415.00 C367.81,414.33 367.52,413.67 367.30,413.00 C367.08,412.33 366.82,411.33 366.72,411.00 Z" fill="#794879" stroke="none"/>
<path d="M338.68,411.00 C338.58,411.33 338.32,412.33 338.10,413.00 C337.88,413.67 337.59,414.33 337.35,415.00 C337.12,415.67 336.89,416.33 336.71,417.00 C336.52,417.67 336.38,418.33 336.25,419.00 C336.11,419.67 335.99,420.33 335.90,421.00 C335.80,421.67 335.72,422.33 335.67,423.00 C335.62,423.67 335.60,424.33 335.59,425.00 C335.57,425.67 335.57,426.33 335.59,427.00 C335.61,427.67 335.65,428.33 335.71,429.00 C335.78,429.67 335.87,430.33 335.97,431.00 C336.06,431.67 336.17,432.33 336.28,433.00 C336.39,433.67 336.51,434.33 336.63,435.00 C336.76,435.67 336.90,436.33 337.03,437.00 C337.17,437.67 337.30,438.33 337.44,439.00 C337.58,439.67 337.71,440.33 337.84,441.00 C337.97,441.67 338.10,442.33 338.23,443.00 C338.37,443.67 338.49,444.33 338.63,445.00 C338.76,445.67 338.89,446.33 339.02,447.00 C339.15,447.67 339.28,448.33 339.41,449.00 C339.54,449.67 339.68,450.33 339.80,451.00 C339.92,451.67 340.04,452.33 340.16,453.00 C340.27,453.67 340.38,454.33 340.49,455.00 C340.60,455.67 340.71,456.33 340.81,457.00 C340.91,457.67 341.01,458.33 341.11,459.00 C341.21,459.67 341.31,460.33 341.40,461.00 C341.49,461.67 341.58,462.33 341.66,463.00 C341.74,463.67 341.80,464.33 341.86,465.00 C341.92,465.67 341.96,466.33 342.01,467.00 C342.06,467.67 342.11,468.33 342.16,469.00 C342.21,469.67 342.27,470.33 342.32,471.00 C342.37,471.67 342.43,472.33 342.49,473.00 C342.54,473.67 342.60,474.33 342.66,475.00 C342.72,475.67 342.78,476.33 342.85,477.00 C342.92,477.67 342.99,478.33 343.06,479.00 C343.14,479.67 343.21,480.33 343.29,481.00 C343.37,481.67 343.45,482.33 343.54,483.00 C343.63,483.67 343.72,484.33 343.82,485.00 C343.92,485.67 344.02,486.33 344.13,487.00 C344.24,487.67 344.34,488.33 344.46,489.00 C344.58,489.67 344.71,490.33 344.84,491.00 C344.98,491.67 345.13,492.33 345.27,493.00 C345.42,493.67 345.57,494.33 345.72,495.00 C345.88,495.67 346.03,496.33 346.19,497.00 C346.35,497.67 346.51,498.33 346.68,499.00 C346.84,499.67 347.01,500.33 347.18,501.00 C347.34,501.67 347.51,502.33 347.68,503.00 C347.84,503.67 348.01,504.33 348.18,505.00 C348.35,505.67 348.52,506.33 348.68,507.00 C348.85,507.67 349.02,508.33 349.17,509.00 C349.33,509.67 349.47,510.33 349.61,511.00 C349.75,511.67 349.87,512.33 349.99,513.00 C350.12,513.67 350.24,514.33 350.36,515.00 C350.47,515.67 350.59,516.33 350.69,517.00 C350.79,517.67 350.88,518.33 350.96,519.00 C351.05,519.67 351.13,520.33 351.21,521.00 C351.29,521.67 351.37,522.33 351.44,523.00 C351.51,523.67 351.58,524.33 351.63,525.00 C351.69,525.67 351.75,526.33 351.80,527.00 C351.85,527.67 351.90,528.50 351.94,529.00 C351.98,529.50 351.91,529.38 352.04,530.00 C352.17,530.62 352.48,532.70 352.70,532.70 C352.92,532.70 353.23,530.62 353.36,530.00 C353.49,529.38 353.42,529.50 353.46,529.00 C353.50,528.50 353.55,527.67 353.60,527.00 C353.65,526.33 353.71,525.67 353.77,525.00 C353.82,524.33 353.89,523.67 353.96,523.00 C354.03,522.33 354.11,521.67 354.19,521.00 C354.27,520.33 354.35,519.67 354.44,519.00 C354.52,518.33 354.61,517.67 354.71,517.00 C354.81,516.33 354.93,515.67 355.04,515.00 C355.16,514.33 355.28,513.67 355.41,513.00 C355.53,512.33 355.65,511.67 355.79,511.00 C355.93,510.33 356.07,509.67 356.23,509.00 C356.38,508.33 356.55,507.67 356.72,507.00 C356.88,506.33 357.05,505.67 357.22,505.00 C357.39,504.33 357.56,503.67 357.72,503.00 C357.89,502.33 358.06,501.67 358.22,501.00 C358.39,500.33 358.56,499.67 358.72,499.00 C358.89,498.33 359.05,497.67 359.21,497.00 C359.37,496.33 359.52,495.67 359.68,495.00 C359.83,494.33 359.98,493.67 360.13,493.00 C360.27,492.33 360.42,491.67 360.56,491.00 C360.69,490.33 360.82,489.67 360.94,489.00 C361.06,488.33 361.16,487.67 361.27,487.00 C361.38,486.33 361.48,485.67 361.58,485.00 C361.68,484.33 361.77,483.67 361.86,483.00 C361.95,482.33 362.03,481.67 362.11,481.00 C362.19,480.33 362.26,479.67 362.34,479.00 C362.41,478.33 362.48,477.67 362.55,477.00 C362.62,476.33 362.68,475.67 362.74,475.00 C362.80,474.33 362.86,473.67 362.91,473.00 C362.97,472.33 363.03,471.67 363.08,471.00 C363.13,470.33 363.19,469.67 363.24,469.00 C363.29,468.33 363.34,467.67 363.39,467.00 C363.44,466.33 363.48,465.67 363.54,465.00 C363.60,464.33 363.66,463.67 363.74,463.00 C363.82,462.33 363.91,461.67 364.00,461.00 C364.09,460.33 364.19,459.67 364.29,459.00 C364.39,458.33 364.49,457.67 364.59,457.00 C364.69,456.33 364.80,455.67 364.91,455.00 C365.02,454.33 365.13,453.67 365.24,453.00 C365.36,452.33 365.48,451.67 365.60,451.00 C365.72,450.33 365.86,449.67 365.99,449.00 C366.12,448.33 366.25,447.67 366.38,447.00 C366.51,446.33 366.64,445.67 366.77,445.00 C366.91,444.33 367.03,443.67 367.17,443.00 C367.30,442.33 367.43,441.67 367.56,441.00 C367.69,440.33 367.82,439.67 367.96,439.00 C368.10,438.33 368.23,437.67 368.37,437.00 C368.50,436.33 368.64,435.67 368.77,435.00 C368.89,434.33 369.01,433.67 369.12,433.00 C369.23,432.33 369.34,431.67 369.43,431.00 C369.53,430.33 369.62,429.67 369.69,429.00 C369.75,428.33 369.79,427.67 369.81,427.00 C369.83,426.33 369.83,425.67 369.81,425.00 C369.80,424.33 369.78,423.67 369.73,423.00 C369.68,422.33 369.60,421.67 369.50,421.00 C369.41,420.33 369.29,419.67 369.15,419.00 C369.02,418.33 368.88,417.67 368.69,417.00 C368.51,416.33 368.28,415.67 368.05,415.00 C367.81,414.33 367.52,413.67 367.30,413.00 C367.08,412.33 366.82,411.33 366.72,411.00" fill="none" stroke="#50205a" stroke-width="1.7" stroke-linejoin="round" stroke-linecap="butt"/>
</g>
<g clip-path="url(#vclip)">
<path d="M502.01,411.00 C501.85,411.33 501.44,412.33 501.08,413.00 C500.71,413.67 500.26,414.33 499.81,415.00 C499.36,415.67 498.88,416.33 498.39,417.00 C497.90,417.67 497.37,418.33 496.85,419.00 C496.33,419.67 495.80,420.33 495.28,421.00 C494.76,421.67 494.23,422.33 493.72,423.00 C493.21,423.67 492.70,424.33 492.22,425.00 C491.75,425.67 491.29,426.33 490.89,427.00 C490.49,427.67 490.11,428.33 489.81,429.00 C489.51,429.67 489.27,430.33 489.07,431.00 C488.87,431.67 488.73,432.33 488.59,433.00 C488.46,433.67 488.35,434.33 488.24,435.00 C488.14,435.67 488.05,436.33 487.97,437.00 C487.88,437.67 487.82,438.33 487.75,439.00 C487.68,439.67 487.61,440.33 487.53,441.00 C487.46,441.67 487.37,442.33 487.28,443.00 C487.19,443.67 487.09,444.33 486.99,445.00 C486.89,445.67 486.78,446.33 486.67,447.00 C486.57,447.67 486.45,448.33 486.37,449.00 C486.29,449.67 486.21,450.33 486.18,451.00 C486.16,451.67 486.16,452.33 486.22,453.00 C486.28,453.67 486.37,454.33 486.55,455.00 C486.72,455.67 486.93,456.33 487.24,457.00 C487.56,457.67 487.96,458.33 488.44,459.00 C488.91,459.67 489.49,460.33 490.10,461.00 C490.71,461.67 491.39,462.33 492.07,463.00 C492.76,463.67 493.49,464.33 494.21,465.00 C494.92,465.67 495.67,466.33 496.37,467.00 C497.08,467.67 497.79,468.33 498.44,469.00 C499.09,469.67 499.73,470.33 500.28,471.00 C500.83,471.67 501.32,472.33 501.73,473.00 C502.14,473.67 502.45,474.33 502.73,475.00 C503.01,475.67 503.22,476.33 503.41,477.00 C503.59,477.67 503.74,478.33 503.85,479.00 C503.97,479.67 504.04,480.62 504.10,481.00 C504.16,481.38 503.86,481.25 504.22,481.30 C504.58,481.35 505.92,481.35 506.28,481.30 C506.64,481.25 506.34,481.38 506.40,481.00 C506.46,480.62 506.53,479.67 506.65,479.00 C506.76,478.33 506.91,477.67 507.09,477.00 C507.28,476.33 507.49,475.67 507.77,475.00 C508.05,474.33 508.36,473.67 508.77,473.00 C509.18,472.33 509.67,471.67 510.22,471.00 C510.77,470.33 511.41,469.67 512.06,469.00 C512.71,468.33 513.42,467.67 514.13,467.00 C514.83,466.33 515.58,465.67 516.29,465.00 C517.01,464.33 517.74,463.67 518.43,463.00 C519.11,462.33 519.79,461.67 520.40,461.00 C521.01,460.33 521.59,459.67 522.06,459.00 C522.54,458.33 522.94,457.67 523.26,457.00 C523.57,456.33 523.78,455.67 523.95,455.00 C524.13,454.33 524.22,453.67 524.28,453.00 C524.34,452.33 524.34,451.67 524.32,451.00 C524.29,450.33 524.21,449.67 524.13,449.00 C524.05,448.33 523.93,447.67 523.83,447.00 C523.72,446.33 523.61,445.67 523.51,445.00 C523.41,444.33 523.31,443.67 523.22,443.00 C523.13,442.33 523.04,441.67 522.97,441.00 C522.89,440.33 522.82,439.67 522.75,439.00 C522.68,438.33 522.62,437.67 522.53,437.00 C522.45,436.33 522.36,435.67 522.26,435.00 C522.15,434.33 522.04,433.67 521.91,433.00 C521.77,432.33 521.63,431.67 521.43,431.00 C521.23,430.33 520.99,429.67 520.69,429.00 C520.39,428.33 520.01,427.67 519.61,427.00 C519.21,426.33 518.75,425.67 518.28,425.00 C517.80,424.33 517.29,423.67 516.78,423.00 C516.27,422.33 515.74,421.67 515.22,421.00 C514.70,420.33 514.17,419.67 513.65,419.00 C513.13,418.33 512.60,417.67 512.11,417.00 C511.62,416.33 511.14,415.67 510.69,415.00 C510.24,414.33 509.79,413.67 509.42,413.00 C509.06,412.33 508.65,411.33 508.49,411.00 Z" fill="#7aafe1" stroke="none"/>
<path d="M502.01,411.00 C501.85,411.33 501.44,412.33 501.08,413.00 C500.71,413.67 500.26,414.33 499.81,415.00 C499.36,415.67 498.88,416.33 498.39,417.00 C497.90,417.67 497.37,418.33 496.85,419.00 C496.33,419.67 495.80,420.33 495.28,421.00 C494.76,421.67 494.23,422.33 493.72,423.00 C493.21,423.67 492.70,424.33 492.22,425.00 C491.75,425.67 491.29,426.33 490.89,427.00 C490.49,427.67 490.11,428.33 489.81,429.00 C489.51,429.67 489.27,430.33 489.07,431.00 C488.87,431.67 488.73,432.33 488.59,433.00 C488.46,433.67 488.35,434.33 488.24,435.00 C488.14,435.67 488.05,436.33 487.97,437.00 C487.88,437.67 487.82,438.33 487.75,439.00 C487.68,439.67 487.61,440.33 487.53,441.00 C487.46,441.67 487.37,442.33 487.28,443.00 C487.19,443.67 487.09,444.33 486.99,445.00 C486.89,445.67 486.78,446.33 486.67,447.00 C486.57,447.67 486.45,448.33 486.37,449.00 C486.29,449.67 486.21,450.33 486.18,451.00 C486.16,451.67 486.16,452.33 486.22,453.00 C486.28,453.67 486.37,454.33 486.55,455.00 C486.72,455.67 486.93,456.33 487.24,457.00 C487.56,457.67 487.96,458.33 488.44,459.00 C488.91,459.67 489.49,460.33 490.10,461.00 C490.71,461.67 491.39,462.33 492.07,463.00 C492.76,463.67 493.49,464.33 494.21,465.00 C494.92,465.67 495.67,466.33 496.37,467.00 C497.08,467.67 497.79,468.33 498.44,469.00 C499.09,469.67 499.73,470.33 500.28,471.00 C500.83,471.67 501.32,472.33 501.73,473.00 C502.14,473.67 502.45,474.33 502.73,475.00 C503.01,475.67 503.22,476.33 503.41,477.00 C503.59,477.67 503.74,478.33 503.85,479.00 C503.97,479.67 504.04,480.62 504.10,481.00 C504.16,481.38 503.86,481.25 504.22,481.30 C504.58,481.35 505.92,481.35 506.28,481.30 C506.64,481.25 506.34,481.38 506.40,481.00 C506.46,480.62 506.53,479.67 506.65,479.00 C506.76,478.33 506.91,477.67 507.09,477.00 C507.28,476.33 507.49,475.67 507.77,475.00 C508.05,474.33 508.36,473.67 508.77,473.00 C509.18,472.33 509.67,471.67 510.22,471.00 C510.77,470.33 511.41,469.67 512.06,469.00 C512.71,468.33 513.42,467.67 514.13,467.00 C514.83,466.33 515.58,465.67 516.29,465.00 C517.01,464.33 517.74,463.67 518.43,463.00 C519.11,462.33 519.79,461.67 520.40,461.00 C521.01,460.33 521.59,459.67 522.06,459.00 C522.54,458.33 522.94,457.67 523.26,457.00 C523.57,456.33 523.78,455.67 523.95,455.00 C524.13,454.33 524.22,453.67 524.28,453.00 C524.34,452.33 524.34,451.67 524.32,451.00 C524.29,450.33 524.21,449.67 524.13,449.00 C524.05,448.33 523.93,447.67 523.83,447.00 C523.72,446.33 523.61,445.67 523.51,445.00 C523.41,444.33 523.31,443.67 523.22,443.00 C523.13,442.33 523.04,441.67 522.97,441.00 C522.89,440.33 522.82,439.67 522.75,439.00 C522.68,438.33 522.62,437.67 522.53,437.00 C522.45,436.33 522.36,435.67 522.26,435.00 C522.15,434.33 522.04,433.67 521.91,433.00 C521.77,432.33 521.63,431.67 521.43,431.00 C521.23,430.33 520.99,429.67 520.69,429.00 C520.39,428.33 520.01,427.67 519.61,427.00 C519.21,426.33 518.75,425.67 518.28,425.00 C517.80,424.33 517.29,423.67 516.78,423.00 C516.27,422.33 515.74,421.67 515.22,421.00 C514.70,420.33 514.17,419.67 513.65,419.00 C513.13,418.33 512.60,417.67 512.11,417.00 C511.62,416.33 511.14,415.67 510.69,415.00 C510.24,414.33 509.79,413.67 509.42,413.00 C509.06,412.33 508.65,411.33 508.49,411.00" fill="none" stroke="#1e418b" stroke-width="2.0" stroke-linejoin="round" stroke-linecap="butt"/>
</g>
<g clip-path="url(#vclip)">
<path d="M549.54,411.00 C549.42,411.33 549.12,412.33 548.86,413.00 C548.59,413.67 548.26,414.33 547.95,415.00 C547.65,415.67 547.33,416.33 547.02,417.00 C546.71,417.67 546.40,418.33 546.10,419.00 C545.80,419.67 545.49,420.33 545.21,421.00 C544.94,421.67 544.67,422.33 544.44,423.00 C544.21,423.67 544.01,424.33 543.82,425.00 C543.63,425.67 543.45,426.33 543.29,427.00 C543.14,427.67 543.01,428.33 542.91,429.00 C542.80,429.67 542.74,430.33 542.67,431.00 C542.61,431.67 542.56,432.33 542.52,433.00 C542.47,433.67 542.44,434.33 542.42,435.00 C542.41,435.67 542.40,436.33 542.40,437.00 C542.40,437.67 542.40,438.33 542.42,439.00 C542.43,439.67 542.45,440.33 542.48,441.00 C542.50,441.67 542.54,442.33 542.58,443.00 C542.62,443.67 542.66,444.33 542.70,445.00 C542.73,445.67 542.77,446.33 542.80,447.00 C542.83,447.67 542.86,448.33 542.88,449.00 C542.91,449.67 542.93,450.33 542.94,451.00 C542.95,451.67 542.94,452.33 542.93,453.00 C542.91,453.67 542.88,454.33 542.85,455.00 C542.82,455.67 542.79,456.33 542.76,457.00 C542.73,457.67 542.69,458.33 542.65,459.00 C542.62,459.67 542.57,460.33 542.54,461.00 C542.50,461.67 542.46,462.33 542.44,463.00 C542.41,463.67 542.38,464.33 542.36,465.00 C542.34,465.67 542.32,466.33 542.32,467.00 C542.31,467.67 542.30,468.33 542.31,469.00 C542.33,469.67 542.37,470.33 542.42,471.00 C542.47,471.67 542.53,472.33 542.61,473.00 C542.69,473.67 542.76,474.33 542.88,475.00 C543.00,475.67 543.15,476.33 543.31,477.00 C543.48,477.67 543.68,478.33 543.87,479.00 C544.06,479.67 544.26,480.33 544.47,481.00 C544.67,481.67 544.89,482.33 545.11,483.00 C545.33,483.67 545.56,484.33 545.79,485.00 C546.02,485.67 546.26,486.33 546.50,487.00 C546.74,487.67 547.00,488.33 547.25,489.00 C547.51,489.67 547.78,490.33 548.03,491.00 C548.28,491.67 548.54,492.33 548.77,493.00 C549.00,493.67 549.20,494.33 549.40,495.00 C549.60,495.67 549.78,496.33 549.96,497.00 C550.14,497.67 550.31,498.33 550.47,499.00 C550.64,499.67 550.78,500.33 550.92,501.00 C551.07,501.67 551.20,502.33 551.33,503.00 C551.46,503.67 551.58,504.33 551.69,505.00 C551.80,505.67 551.90,506.33 551.99,507.00 C552.08,507.67 552.17,508.33 552.25,509.00 C552.33,509.67 552.40,510.33 552.47,511.00 C552.54,511.67 552.60,512.33 552.65,513.00 C552.71,513.67 552.75,514.40 552.80,515.00 C552.85,515.60 552.85,515.98 552.94,516.60 C553.03,517.22 553.21,518.70 553.35,518.70 C553.49,518.70 553.67,517.22 553.76,516.60 C553.85,515.98 553.85,515.60 553.90,515.00 C553.95,514.40 553.99,513.67 554.05,513.00 C554.10,512.33 554.16,511.67 554.23,511.00 C554.30,510.33 554.37,509.67 554.45,509.00 C554.53,508.33 554.62,507.67 554.71,507.00 C554.80,506.33 554.90,505.67 555.01,505.00 C555.12,504.33 555.24,503.67 555.37,503.00 C555.50,502.33 555.63,501.67 555.78,501.00 C555.92,500.33 556.06,499.67 556.23,499.00 C556.39,498.33 556.56,497.67 556.74,497.00 C556.92,496.33 557.10,495.67 557.30,495.00 C557.50,494.33 557.70,493.67 557.93,493.00 C558.16,492.33 558.42,491.67 558.67,491.00 C558.92,490.33 559.19,489.67 559.45,489.00 C559.70,488.33 559.96,487.67 560.20,487.00 C560.44,486.33 560.68,485.67 560.91,485.00 C561.14,484.33 561.37,483.67 561.59,483.00 C561.81,482.33 562.03,481.67 562.23,481.00 C562.44,480.33 562.64,479.67 562.83,479.00 C563.02,478.33 563.22,477.67 563.39,477.00 C563.55,476.33 563.70,475.67 563.82,475.00 C563.94,474.33 564.01,473.67 564.09,473.00 C564.17,472.33 564.23,471.67 564.28,471.00 C564.33,470.33 564.37,469.67 564.39,469.00 C564.40,468.33 564.39,467.67 564.38,467.00 C564.38,466.33 564.36,465.67 564.34,465.00 C564.32,464.33 564.29,463.67 564.26,463.00 C564.24,462.33 564.20,461.67 564.16,461.00 C564.13,460.33 564.08,459.67 564.05,459.00 C564.01,458.33 563.97,457.67 563.94,457.00 C563.91,456.33 563.88,455.67 563.85,455.00 C563.82,454.33 563.79,453.67 563.77,453.00 C563.76,452.33 563.75,451.67 563.76,451.00 C563.77,450.33 563.79,449.67 563.82,449.00 C563.84,448.33 563.87,447.67 563.90,447.00 C563.93,446.33 563.97,445.67 564.00,445.00 C564.04,444.33 564.08,443.67 564.12,443.00 C564.16,442.33 564.20,441.67 564.22,441.00 C564.25,440.33 564.27,439.67 564.28,439.00 C564.30,438.33 564.30,437.67 564.30,437.00 C564.30,436.33 564.29,435.67 564.28,435.00 C564.26,434.33 564.23,433.67 564.18,433.00 C564.14,432.33 564.09,431.67 564.03,431.00 C563.96,430.33 563.90,429.67 563.79,429.00 C563.69,428.33 563.56,427.67 563.41,427.00 C563.25,426.33 563.07,425.67 562.88,425.00 C562.69,424.33 562.49,423.67 562.26,423.00 C562.03,422.33 561.76,421.67 561.49,421.00 C561.21,420.33 560.90,419.67 560.60,419.00 C560.30,418.33 559.99,417.67 559.68,417.00 C559.37,416.33 559.05,415.67 558.75,415.00 C558.44,414.33 558.11,413.67 557.84,413.00 C557.58,412.33 557.28,411.33 557.16,411.00 Z" fill="#794879" stroke="none"/>
<path d="M549.54,411.00 C549.42,411.33 549.12,412.33 548.86,413.00 C548.59,413.67 548.26,414.33 547.95,415.00 C547.65,415.67 547.33,416.33 547.02,417.00 C546.71,417.67 546.40,418.33 546.10,419.00 C545.80,419.67 545.49,420.33 545.21,421.00 C544.94,421.67 544.67,422.33 544.44,423.00 C544.21,423.67 544.01,424.33 543.82,425.00 C543.63,425.67 543.45,426.33 543.29,427.00 C543.14,427.67 543.01,428.33 542.91,429.00 C542.80,429.67 542.74,430.33 542.67,431.00 C542.61,431.67 542.56,432.33 542.52,433.00 C542.47,433.67 542.44,434.33 542.42,435.00 C542.41,435.67 542.40,436.33 542.40,437.00 C542.40,437.67 542.40,438.33 542.42,439.00 C542.43,439.67 542.45,440.33 542.48,441.00 C542.50,441.67 542.54,442.33 542.58,443.00 C542.62,443.67 542.66,444.33 542.70,445.00 C542.73,445.67 542.77,446.33 542.80,447.00 C542.83,447.67 542.86,448.33 542.88,449.00 C542.91,449.67 542.93,450.33 542.94,451.00 C542.95,451.67 542.94,452.33 542.93,453.00 C542.91,453.67 542.88,454.33 542.85,455.00 C542.82,455.67 542.79,456.33 542.76,457.00 C542.73,457.67 542.69,458.33 542.65,459.00 C542.62,459.67 542.57,460.33 542.54,461.00 C542.50,461.67 542.46,462.33 542.44,463.00 C542.41,463.67 542.38,464.33 542.36,465.00 C542.34,465.67 542.32,466.33 542.32,467.00 C542.31,467.67 542.30,468.33 542.31,469.00 C542.33,469.67 542.37,470.33 542.42,471.00 C542.47,471.67 542.53,472.33 542.61,473.00 C542.69,473.67 542.76,474.33 542.88,475.00 C543.00,475.67 543.15,476.33 543.31,477.00 C543.48,477.67 543.68,478.33 543.87,479.00 C544.06,479.67 544.26,480.33 544.47,481.00 C544.67,481.67 544.89,482.33 545.11,483.00 C545.33,483.67 545.56,484.33 545.79,485.00 C546.02,485.67 546.26,486.33 546.50,487.00 C546.74,487.67 547.00,488.33 547.25,489.00 C547.51,489.67 547.78,490.33 548.03,491.00 C548.28,491.67 548.54,492.33 548.77,493.00 C549.00,493.67 549.20,494.33 549.40,495.00 C549.60,495.67 549.78,496.33 549.96,497.00 C550.14,497.67 550.31,498.33 550.47,499.00 C550.64,499.67 550.78,500.33 550.92,501.00 C551.07,501.67 551.20,502.33 551.33,503.00 C551.46,503.67 551.58,504.33 551.69,505.00 C551.80,505.67 551.90,506.33 551.99,507.00 C552.08,507.67 552.17,508.33 552.25,509.00 C552.33,509.67 552.40,510.33 552.47,511.00 C552.54,511.67 552.60,512.33 552.65,513.00 C552.71,513.67 552.75,514.40 552.80,515.00 C552.85,515.60 552.85,515.98 552.94,516.60 C553.03,517.22 553.21,518.70 553.35,518.70 C553.49,518.70 553.67,517.22 553.76,516.60 C553.85,515.98 553.85,515.60 553.90,515.00 C553.95,514.40 553.99,513.67 554.05,513.00 C554.10,512.33 554.16,511.67 554.23,511.00 C554.30,510.33 554.37,509.67 554.45,509.00 C554.53,508.33 554.62,507.67 554.71,507.00 C554.80,506.33 554.90,505.67 555.01,505.00 C555.12,504.33 555.24,503.67 555.37,503.00 C555.50,502.33 555.63,501.67 555.78,501.00 C555.92,500.33 556.06,499.67 556.23,499.00 C556.39,498.33 556.56,497.67 556.74,497.00 C556.92,496.33 557.10,495.67 557.30,495.00 C557.50,494.33 557.70,493.67 557.93,493.00 C558.16,492.33 558.42,491.67 558.67,491.00 C558.92,490.33 559.19,489.67 559.45,489.00 C559.70,488.33 559.96,487.67 560.20,487.00 C560.44,486.33 560.68,485.67 560.91,485.00 C561.14,484.33 561.37,483.67 561.59,483.00 C561.81,482.33 562.03,481.67 562.23,481.00 C562.44,480.33 562.64,479.67 562.83,479.00 C563.02,478.33 563.22,477.67 563.39,477.00 C563.55,476.33 563.70,475.67 563.82,475.00 C563.94,474.33 564.01,473.67 564.09,473.00 C564.17,472.33 564.23,471.67 564.28,471.00 C564.33,470.33 564.37,469.67 564.39,469.00 C564.40,468.33 564.39,467.67 564.38,467.00 C564.38,466.33 564.36,465.67 564.34,465.00 C564.32,464.33 564.29,463.67 564.26,463.00 C564.24,462.33 564.20,461.67 564.16,461.00 C564.13,460.33 564.08,459.67 564.05,459.00 C564.01,458.33 563.97,457.67 563.94,457.00 C563.91,456.33 563.88,455.67 563.85,455.00 C563.82,454.33 563.79,453.67 563.77,453.00 C563.76,452.33 563.75,451.67 563.76,451.00 C563.77,450.33 563.79,449.67 563.82,449.00 C563.84,448.33 563.87,447.67 563.90,447.00 C563.93,446.33 563.97,445.67 564.00,445.00 C564.04,444.33 564.08,443.67 564.12,443.00 C564.16,442.33 564.20,441.67 564.22,441.00 C564.25,440.33 564.27,439.67 564.28,439.00 C564.30,438.33 564.30,437.67 564.30,437.00 C564.30,436.33 564.29,435.67 564.28,435.00 C564.26,434.33 564.23,433.67 564.18,433.00 C564.14,432.33 564.09,431.67 564.03,431.00 C563.96,430.33 563.90,429.67 563.79,429.00 C563.69,428.33 563.56,427.67 563.41,427.00 C563.25,426.33 563.07,425.67 562.88,425.00 C562.69,424.33 562.49,423.67 562.26,423.00 C562.03,422.33 561.76,421.67 561.49,421.00 C561.21,420.33 560.90,419.67 560.60,419.00 C560.30,418.33 559.99,417.67 559.68,417.00 C559.37,416.33 559.05,415.67 558.75,415.00 C558.44,414.33 558.11,413.67 557.84,413.00 C557.58,412.33 557.28,411.33 557.16,411.00" fill="none" stroke="#50205a" stroke-width="1.7" stroke-linejoin="round" stroke-linecap="butt"/>
</g>
<line x1="97.9" y1="416.1" x2="97.9" y2="505.6" stroke="#294a88" stroke-width="1.5"/>
<rect x="94.90" y="422.3" width="6.0" height="34.30" fill="#294a88"/>
<circle cx="97.9" cy="443.5" r="1.85" fill="#fff"/>
<line x1="145.9" y1="416.1" x2="145.9" y2="499.4" stroke="#4f1f50" stroke-width="1.5"/>
<rect x="143.00" y="423.1" width="5.8" height="52.20" fill="#4f1f50"/>
<circle cx="145.9" cy="445.9" r="1.85" fill="#fff"/>
<line x1="304.6" y1="416.1" x2="304.6" y2="505.7" stroke="#294a88" stroke-width="1.5"/>
<rect x="301.60" y="419.9" width="6.0" height="39.00" fill="#294a88"/>
<circle cx="304.6" cy="443.5" r="1.85" fill="#fff"/>
<line x1="352.7" y1="416.1" x2="352.7" y2="499.3" stroke="#4f1f50" stroke-width="1.5"/>
<rect x="349.75" y="418.1" width="5.9" height="47.60" fill="#4f1f50"/>
<circle cx="352.7" cy="445.3" r="1.85" fill="#fff"/>
<line x1="505.2" y1="421.7" x2="505.2" y2="463.5" stroke="#294a88" stroke-width="1.5"/>
<rect x="502.35" y="436.8" width="5.7" height="17.20" fill="#294a88"/>
<circle cx="505.2" cy="445.5" r="1.85" fill="#fff"/>
<line x1="553.2" y1="426.9" x2="553.2" y2="490.7" stroke="#4f1f50" stroke-width="1.5"/>
<rect x="550.45" y="430.4" width="5.5" height="44.80" fill="#4f1f50"/>
<circle cx="553.2" cy="455.1" r="1.85" fill="#fff"/>
<g stroke="#ababab" stroke-width="1">
<line x1="73.7" y1="413.2" x2="73.7" y2="571.35"/>
<line x1="70.7" y1="539.52" x2="73.7" y2="539.52"/>
<line x1="70.7" y1="507.94" x2="73.7" y2="507.94"/>
<line x1="70.7" y1="476.36" x2="73.7" y2="476.36"/>
<line x1="70.7" y1="444.78" x2="73.7" y2="444.78"/>
<line x1="70.7" y1="413.20" x2="73.7" y2="413.20"/>
<line x1="97.9" y1="571.35" x2="97.9" y2="574.9"/>
<line x1="145.9" y1="571.35" x2="145.9" y2="574.9"/>
</g>
<line x1="70.7" y1="571.35" x2="170.1" y2="571.35" stroke="#5a5a5a" stroke-width="1"/>
<g font-family='"Liberation Sans", sans-serif' font-size="9" fill="#333" text-anchor="end">
<text x="66.0" y="574.00">0</text>
<text x="66.0" y="542.42">0.2</text>
<text x="66.0" y="510.84">0.4</text>
<text x="66.0" y="479.26">0.6</text>
<text x="66.0" y="447.68">0.8</text>
<text x="66.0" y="416.10">1.0</text>
</g>
<g stroke="#ababab" stroke-width="1">
<line x1="280.6" y1="413.2" x2="280.6" y2="571.35"/>
<line x1="277.6" y1="539.52" x2="280.6" y2="539.52"/>
<line x1="277.6" y1="507.94" x2="280.6" y2="507.94"/>
<line x1="277.6" y1="476.36" x2="280.6" y2="476.36"/>
<line x1="277.6" y1="444.78" x2="280.6" y2="444.78"/>
<line x1="277.6" y1="413.20" x2="280.6" y2="413.20"/>
<line x1="304.5" y1="571.35" x2="304.5" y2="574.9"/>
<line x1="352.7" y1="571.35" x2="352.7" y2="574.9"/>
</g>
<line x1="277.4" y1="571.35" x2="376.9" y2="571.35" stroke="#5a5a5a" stroke-width="1"/>
<g font-family='"Liberation Sans", sans-serif' font-size="9" fill="#333" text-anchor="end">
<text x="273.1" y="574.00">0</text>
<text x="273.1" y="542.42">0.2</text>
<text x="273.1" y="510.84">0.4</text>
<text x="273.1" y="479.26">0.6</text>
<text x="273.1" y="447.68">0.8</text>
<text x="273.1" y="416.10">1.0</text>
</g>
<g stroke="#ababab" stroke-width="1">
<line x1="481.3" y1="413.2" x2="481.3" y2="571.35"/>
<line x1="478.3" y1="539.52" x2="481.3" y2="539.52"/>
<line x1="478.3" y1="507.94" x2="481.3" y2="507.94"/>
<line x1="478.3" y1="476.36" x2="481.3" y2="476.36"/>
<line x1="478.3" y1="444.78" x2="481.3" y2="444.78"/>
<line x1="478.3" y1="413.20" x2="481.3" y2="413.20"/>
<line x1="505.5" y1="571.35" x2="505.5" y2="574.9"/>
<line x1="553.5" y1="571.35" x2="553.5" y2="574.9"/>
</g>
<line x1="477.9" y1="571.35" x2="577.2" y2="571.35" stroke="#5a5a5a" stroke-width="1"/>
<g font-family='"Liberation Sans", sans-serif' font-size="9" fill="#333" text-anchor="end">
<text x="474.1" y="574.00">0</text>
<text x="474.1" y="542.42">0.2</text>
<text x="474.1" y="510.84">0.4</text>
<text x="474.1" y="479.26">0.6</text>
<text x="474.1" y="447.68">0.8</text>
<text x="474.1" y="416.10">1.0</text>
</g>
<g font-family='"Liberation Sans", sans-serif' fill="#222">
<text x="104.0" y="403.8" font-size="10.3" textLength="37.2" lengthAdjust="spacingAndGlyphs">27 tasks</text>
<text x="280.5" y="404.0" font-size="10.3" textLength="100.7" lengthAdjust="spacingAndGlyphs">17 classification tasks</text>
<text x="487.6" y="403.9" font-size="10.3" textLength="89.5" lengthAdjust="spacingAndGlyphs">10 regression tasks</text>
<text x="78.7" y="586.3" font-size="8.7" textLength="37.7" lengthAdjust="spacingAndGlyphs">Baselines</text>
<text x="131.0" y="586.3" font-size="8.7" textLength="29.6" lengthAdjust="spacingAndGlyphs">ChatNT</text>
<text x="285.8" y="586.2" font-size="8.7" textLength="37.3" lengthAdjust="spacingAndGlyphs">Baselines</text>
<text x="337.8" y="586.2" font-size="8.7" textLength="29.1" lengthAdjust="spacingAndGlyphs">ChatNT</text>
<text x="486.6" y="586.2" font-size="8.7" textLength="37.2" lengthAdjust="spacingAndGlyphs">Baselines</text>
<text x="538.7" y="586.2" font-size="8.7" textLength="28.9" lengthAdjust="spacingAndGlyphs">ChatNT</text>
<text x="106.4" y="599.6" font-size="10.4" textLength="28.5" lengthAdjust="spacingAndGlyphs">Model</text>
<text x="313.8" y="599.4" font-size="10.4" textLength="28.6" lengthAdjust="spacingAndGlyphs">Model</text>
<text x="514.3" y="599.4" font-size="10.4" textLength="28.9" lengthAdjust="spacingAndGlyphs">Model</text>
<text font-size="10.3" transform="translate(46.9,569.9) rotate(-90)" textLength="153.5" lengthAdjust="spacingAndGlyphs">Metric (mean across all 27 tasks)</text>
<text font-size="10.3" transform="translate(240.5,540.0) rotate(-90)" textLength="95.5" lengthAdjust="spacingAndGlyphs">Metric (mean across</text>
<text font-size="10.3" transform="translate(251.5,544.8) rotate(-90)" textLength="104.3" lengthAdjust="spacingAndGlyphs">17 classification tasks)</text>
<text font-size="10.3" transform="translate(442.5,540.0) rotate(-90)" textLength="95.2" lengthAdjust="spacingAndGlyphs">Metric (mean across</text>
<text font-size="10.3" transform="translate(453.5,538.8) rotate(-90)" textLength="92.3" lengthAdjust="spacingAndGlyphs">10 regression tasks)</text>
</g>
</svg>
</body></html>
